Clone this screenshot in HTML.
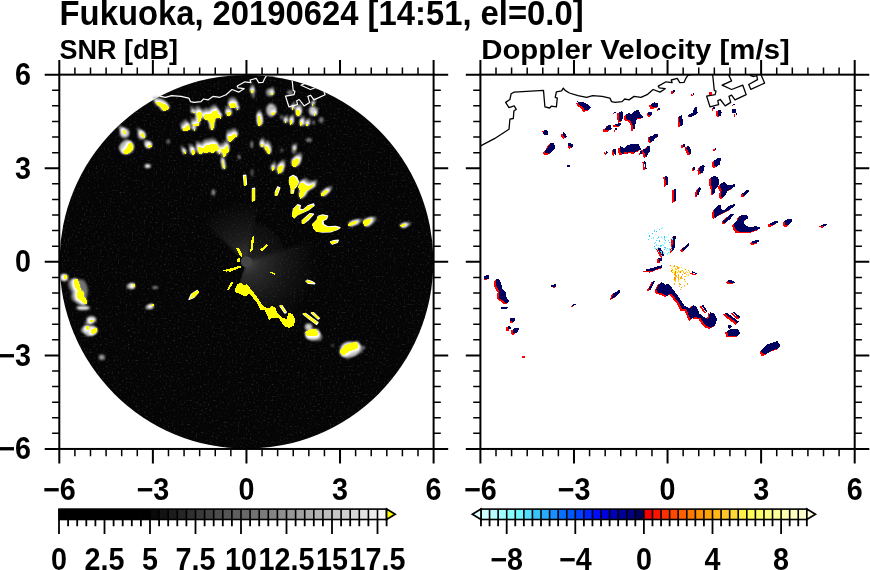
<!DOCTYPE html>
<html lang="en"><head><meta charset="utf-8"><title>Fukuoka, 20190624 [14:51, el=0.0]</title>
<style>
html,body{margin:0;padding:0;background:#fff;}
body{width:870px;height:570px;overflow:hidden;}
svg{display:block;}
text{font-family:"Liberation Sans", "DejaVu Sans", sans-serif;font-weight:bold;fill:#000;}
.t1{font-size:34.5px;}
.t2{font-size:28.4px;}
.tk{font-size:30.9px;}
</style></head><body>
<svg width="870" height="570" viewBox="0 0 870 570">
<defs>
<clipPath id="cp1"><rect x="59.3" y="74.65" width="374.3" height="374.3"/></clipPath>
<clipPath id="cp2"><rect x="480.4" y="74.65" width="374.3" height="374.3"/></clipPath>
<clipPath id="cc1"><circle cx="246.45" cy="261.80" r="186.85"/></clipPath>
<filter id="bl" color-interpolation-filters="sRGB" x="-5%" y="-5%" width="110%" height="110%"><feGaussianBlur stdDeviation="1.3"/></filter>
<filter id="bl3" color-interpolation-filters="sRGB" x="-5%" y="-5%" width="110%" height="110%"><feGaussianBlur stdDeviation="1.1"/></filter>
<filter id="bl4" color-interpolation-filters="sRGB" x="-5%" y="-5%" width="110%" height="110%"><feGaussianBlur stdDeviation="0.6"/></filter>
<filter id="nz" color-interpolation-filters="sRGB" x="0" y="0" width="100%" height="100%"><feTurbulence type="fractalNoise" baseFrequency="0.5" numOctaves="2" seed="3"/><feColorMatrix type="matrix" values="0 0 0 0 0.2  0 0 0 0 0.2  0 0 0 0 0.2  3 0 0 0 -1.8"/></filter>
<filter id="bl2" color-interpolation-filters="sRGB" x="-5%" y="-5%" width="110%" height="110%"><feGaussianBlur stdDeviation="1.5"/></filter>

<radialGradient id="rg1" gradientUnits="userSpaceOnUse" cx="246.4" cy="261.8" r="70">
<stop offset="0" stop-color="#4a4a4a"/><stop offset="0.2" stop-color="#2c2c2c"/><stop offset="0.55" stop-color="#161616"/><stop offset="1" stop-color="#050505"/></radialGradient>
<radialGradient id="rg2" gradientUnits="userSpaceOnUse" cx="246.4" cy="261.8" r="60">
<stop offset="0" stop-color="#3a3a3a"/><stop offset="0.4" stop-color="#1c1c1c"/><stop offset="1" stop-color="#050505"/></radialGradient>

</defs>
<rect width="870" height="570" fill="#fff"/>

<text class="t1" x="59.6" y="24.8" textLength="524" lengthAdjust="spacingAndGlyphs">Fukuoka, 20190624 [14:51, el=0.0]</text>
<text class="t2" x="59.6" y="58.7" textLength="118.3" lengthAdjust="spacingAndGlyphs">SNR [dB]</text>
<text class="t2" x="481.2" y="58.7" textLength="308.6" lengthAdjust="spacingAndGlyphs">Doppler Velocity [m/s]</text>
<g clip-path="url(#cp1)">
<circle cx="246.45" cy="261.80" r="186.85" fill="#050505"/>
<g filter="url(#bl2)"><path d="M246.4 261.8L217.2 334.1A78 78 0 0 0 320.6 237.7Z" fill="url(#rg1)"/><path d="M246.4 261.8L259.3 201.2A62 62 0 0 0 200.4 220.3Z" fill="url(#rg2)"/><path d="M246.4 261.8L284.5 249.4A40 40 0 0 0 254.8 222.7Z" fill="url(#rg2)" opacity="0.6"/></g>
<g filter="url(#bl4)"><polygon points="234.6,290.4 240.2,287.7 247.2,289.5 254.2,296.5 261.2,305.3 268.2,313.2 275.3,313.2 282.3,320.2 291.0,320.2 296.0,319.5 305.1,330.1 301.0,333.4 293.5,338.5 290.5,340.3 281.5,344.7 275.4,347.0 266.1,349.6 248.9,351.8 225.3,349.3 212.0,344.9" fill="#050505"/><path d="M246.4 261.8L188.5 277.3A60 60 0 0 0 227.9 318.9Z" fill="#050505"/></g>
<rect x="59.3" y="74.65" width="374.3" height="374.3" filter="url(#nz)" clip-path="url(#cc1)"/>
<circle cx="246.4" cy="261.8" r="5.6" fill="#454545"/>
<g filter="url(#bl)"><ellipse cx="168.4" cy="141.4" rx="1.5" ry="2.1" fill="rgb(127,127,127)"/><ellipse cx="253.3" cy="92.6" rx="1.2" ry="6.0" fill="rgb(153,153,153)"/><ellipse cx="270.0" cy="92.3" rx="3.9" ry="3.9" fill="rgb(153,153,153)"/><ellipse cx="290.0" cy="92.6" rx="3.0" ry="2.4" fill="rgb(127,127,127)"/><ellipse cx="271.1" cy="110.2" rx="4.8" ry="6.6" fill="rgb(191,191,191)"/><ellipse cx="259.8" cy="118.9" rx="2.4" ry="6.3" fill="rgb(153,153,153)"/><ellipse cx="281.6" cy="117.2" rx="1.2" ry="2.4" fill="rgb(127,127,127)"/><ellipse cx="285.4" cy="119.6" rx="1.5" ry="3.3" fill="rgb(153,153,153)"/><ellipse cx="291.4" cy="120.0" rx="1.2" ry="4.2" fill="rgb(178,178,178)"/><ellipse cx="298.1" cy="110.9" rx="2.1" ry="4.8" fill="rgb(178,178,178)"/><ellipse cx="302.3" cy="121.8" rx="1.5" ry="3.9" fill="rgb(178,178,178)"/><ellipse cx="307.2" cy="122.5" rx="1.5" ry="3.3" fill="rgb(153,153,153)"/><ellipse cx="312.8" cy="110.9" rx="3.9" ry="4.8" fill="rgb(204,204,204)"/><ellipse cx="313.5" cy="122.5" rx="1.5" ry="2.1" fill="rgb(127,127,127)"/><ellipse cx="321.2" cy="120.0" rx="2.1" ry="3.0" fill="rgb(127,127,127)"/><ellipse cx="308.9" cy="140.0" rx="3.0" ry="2.1" fill="rgb(127,127,127)"/><ellipse cx="293.9" cy="149.1" rx="2.1" ry="5.1" fill="rgb(127,127,127)"/><ellipse cx="251.8" cy="144.6" rx="1.2" ry="3.6" fill="rgb(153,153,153)"/><ellipse cx="261.9" cy="143.2" rx="1.8" ry="3.6" fill="rgb(153,153,153)"/><ellipse cx="281.9" cy="150.2" rx="1.5" ry="1.8" fill="rgb(102,102,102)"/><ellipse cx="124.6" cy="133.0" rx="4.8" ry="4.8" fill="rgb(204,204,204)"/><ellipse cx="126.7" cy="147.4" rx="7.2" ry="6.3" fill="rgb(204,204,204)"/><ellipse cx="141.8" cy="135.1" rx="3.9" ry="4.2" fill="rgb(178,178,178)"/><ellipse cx="148.4" cy="144.6" rx="3.6" ry="3.3" fill="rgb(204,204,204)"/><ellipse cx="168.1" cy="141.8" rx="1.8" ry="2.1" fill="rgb(114,114,114)"/><ellipse cx="147.7" cy="166.0" rx="3.0" ry="2.1" fill="rgb(242,242,242)"/><ellipse cx="64.6" cy="277.6" rx="3.7" ry="3.4" fill="rgb(204,204,204)"/><ellipse cx="80.4" cy="291.2" rx="7.5" ry="11.9" fill="rgb(114,114,114)"/><ellipse cx="83.1" cy="307.9" rx="6.7" ry="2.2" fill="rgb(229,229,229)"/><ellipse cx="91.4" cy="319.7" rx="4.8" ry="3.4" fill="rgb(229,229,229)"/><ellipse cx="90.1" cy="330.3" rx="7.5" ry="4.8" fill="rgb(229,229,229)"/><ellipse cx="131.3" cy="286.0" rx="3.7" ry="2.2" fill="rgb(204,204,204)"/><ellipse cx="155.2" cy="287.5" rx="3.1" ry="1.3" fill="rgb(153,153,153)"/><ellipse cx="149.7" cy="307.0" rx="3.7" ry="2.2" fill="rgb(178,178,178)"/><ellipse cx="101.8" cy="357.3" rx="3.0" ry="2.8" fill="rgb(153,153,153)"/><ellipse cx="308.6" cy="326.9" rx="3.7" ry="3.4" fill="rgb(204,204,204)"/><ellipse cx="312.5" cy="334.8" rx="7.1" ry="4.8" fill="rgb(229,229,229)"/><ellipse cx="349.8" cy="349.3" rx="9.7" ry="7.5" fill="rgb(229,229,229)"/><ellipse cx="363.4" cy="347.5" rx="1.9" ry="1.5" fill="rgb(127,127,127)"/><ellipse cx="332.5" cy="345.5" rx="1.3" ry="1.3" fill="rgb(102,102,102)"/><ellipse cx="404.1" cy="225.3" rx="3.4" ry="1.5" fill="rgb(114,114,114)"/><ellipse cx="252.1" cy="172.8" rx="1.2" ry="3.7" fill="rgb(102,102,102)"/><ellipse cx="239.1" cy="157.0" rx="1.2" ry="2.2" fill="rgb(153,153,153)"/><ellipse cx="213.4" cy="192.5" rx="1.7" ry="3.0" fill="rgb(153,153,153)"/></g>
<g filter="url(#bl)" fill="#aaa" stroke="#aaa" stroke-width="1.0" stroke-linejoin="round" opacity="0.7"><polygon points="153.1,96.9 158.4,97.6 163.4,99.7 166.9,103.2 164.8,105.3 160.5,106.0 158.4,102.5 154.9,100.4"/><polygon points="154.3,99.1 159.6,99.8 164.5,101.9 168.1,105.4 165.9,107.5 161.7,108.2 159.6,104.7 156.1,102.6"/><polygon points="137.6,128.4 139.3,129.1 141.9,132.6 140.4,134.0 138.2,131.2"/><polygon points="139.2,130.3 140.9,131.0 143.4,134.5 142.0,135.9 139.8,133.1"/><polygon points="144.2,140.6 147.0,140.3 148.0,142.5 146.0,143.9 144.2,142.5"/><polygon points="145.8,142.5 148.6,142.3 149.6,144.4 147.6,145.8 145.8,144.4"/><polygon points="180.6,123.4 182.7,122.7 184.8,119.9 186.9,120.6 188.0,124.1 185.5,125.8 181.3,125.8"/><polygon points="181.6,125.7 183.7,125.0 185.8,122.2 187.9,122.9 189.0,126.4 186.5,128.1 182.3,128.1"/><polygon points="191.6,123.3 193.4,123.7 193.4,125.7 191.7,125.4"/><polygon points="192.5,125.6 194.3,126.0 194.3,128.0 192.7,127.7"/><polygon points="191.2,118.6 194.3,119.0 196.4,117.6 197.8,119.0 196.4,121.2 193.5,121.2 191.4,120.4"/><polygon points="192.0,121.0 195.1,121.4 197.2,120.0 198.6,121.4 197.2,123.5 194.4,123.5 192.3,122.8"/><polygon points="195.1,107.8 198.0,106.3 200.1,107.8 200.1,112.0 198.7,116.2 196.1,116.6 195.8,112.7"/><polygon points="195.9,110.1 198.7,108.7 200.8,110.1 200.8,114.3 199.4,118.5 196.9,119.0 196.6,115.0"/><polygon points="190.8,106.8 192.6,106.8 192.6,108.2 190.8,108.2"/><polygon points="191.6,109.2 193.5,109.2 193.5,110.6 191.6,110.6"/><polygon points="202.6,109.7 206.1,108.3 208.9,109.0 211.7,106.2 215.2,104.8 217.3,108.3 220.1,111.1 219.4,113.2 215.9,112.5 213.8,113.9 212.8,118.2 212.0,124.5 210.0,124.5 209.6,119.6 207.5,115.4 204.7,114.6 202.6,113.2"/><polygon points="203.2,112.2 206.7,110.8 209.5,111.5 212.3,108.7 215.8,107.3 217.9,110.8 220.7,113.6 220.0,115.7 216.5,115.0 214.4,116.4 213.4,120.6 212.6,126.9 210.6,126.9 210.2,122.0 208.1,117.8 205.3,117.1 203.2,115.7"/><polygon points="226.1,106.5 229.9,106.5 230.3,109.6 228.0,110.7 226.1,109.6"/><polygon points="226.4,109.0 230.2,109.0 230.6,112.1 228.3,113.2 226.4,112.1"/><polygon points="228.7,99.1 232.2,97.3 235.7,98.4 236.4,101.2 233.6,102.3 230.1,102.3"/><polygon points="228.9,101.6 232.4,99.7 235.9,100.9 236.6,103.7 233.8,104.8 230.3,104.8"/><polygon points="236.5,103.0 237.9,103.0 237.9,104.7 236.5,104.7"/><polygon points="236.7,105.5 238.1,105.5 238.1,107.2 236.7,107.2"/><polygon points="251.1,85.5 253.2,85.0 253.6,87.1 251.8,87.8"/><polygon points="251.0,87.9 253.1,87.5 253.5,89.6 251.7,90.3"/><polygon points="258.1,110.7 260.5,110.3 260.5,116.6 258.4,116.6"/><polygon points="257.9,113.2 260.3,112.8 260.3,119.1 258.2,119.1"/><polygon points="227.5,130.7 230.6,130.4 233.1,128.6 236.2,129.3 236.2,131.4 233.1,132.8 231.3,135.6 228.5,137.0 227.1,134.2"/><polygon points="227.8,133.2 230.9,132.9 233.4,131.1 236.5,131.8 236.5,133.9 233.4,135.3 231.6,138.1 228.8,139.5 227.4,136.7"/><polygon points="181.1,146.1 182.5,146.1 183.6,148.9 182.2,149.6"/><polygon points="182.3,148.3 183.7,148.3 184.8,151.1 183.4,151.8"/><polygon points="189.3,144.5 191.6,144.5 192.6,147.3 191.6,150.1 189.8,149.4"/><polygon points="190.3,146.8 192.7,146.8 193.7,149.6 192.7,152.4 190.9,151.7"/><polygon points="196.5,141.5 199.3,142.2 201.4,143.6 204.2,140.1 207.7,139.4 211.2,138.7 214.7,139.1 216.8,142.2 217.5,145.0 214.7,145.7 211.2,147.8 207.7,147.1 204.2,147.8 201.4,147.1 200.0,149.2 197.4,148.5 196.5,145.0"/><polygon points="197.3,143.8 200.1,144.5 202.2,145.9 205.0,142.4 208.5,141.7 212.0,141.0 215.5,141.4 217.6,144.5 218.3,147.3 215.5,148.0 212.0,150.1 208.5,149.4 205.0,150.1 202.2,149.4 200.8,151.5 198.3,150.8 197.3,147.3"/><polygon points="217.3,146.2 219.0,146.2 219.0,149.0 217.3,149.0"/><polygon points="217.9,148.7 219.6,148.7 219.6,151.5 217.9,151.5"/><polygon points="220.3,143.4 223.2,144.1 225.3,140.6 227.4,141.3 227.6,146.2 225.3,148.3 224.3,151.8 222.5,151.1 222.0,148.3 220.3,146.9"/><polygon points="220.8,145.8 223.6,146.5 225.7,143.0 227.8,143.7 228.1,148.6 225.7,150.7 224.8,154.2 222.9,153.5 222.5,150.7 220.8,149.3"/><polygon points="251.3,85.0 253.0,84.6 253.3,87.1 251.6,87.8"/><polygon points="251.2,87.5 252.9,87.1 253.2,89.6 251.5,90.3"/><polygon points="271.6,87.5 273.3,87.5 273.6,89.3 271.9,89.7"/><polygon points="271.2,89.9 272.9,89.9 273.2,91.8 271.5,92.2"/><polygon points="258.2,111.0 260.3,111.3 261.7,115.2 262.0,118.7 260.3,120.8 258.6,120.1 258.6,115.9"/><polygon points="258.0,113.5 260.1,113.8 261.5,117.7 261.8,121.2 260.1,123.3 258.4,122.6 258.4,118.4"/><polygon points="272.0,108.0 275.5,106.6 276.2,108.3 273.4,109.7"/><polygon points="271.6,110.5 275.1,109.0 275.8,110.7 273.0,112.1"/><polygon points="293.4,102.1 294.8,102.1 294.8,104.5 293.4,104.5"/><polygon points="292.7,104.5 294.1,104.5 294.1,106.9 292.7,106.9"/><polygon points="298.1,105.0 300.6,104.6 302.0,107.8 300.9,111.0 298.8,111.0 297.8,108.5"/><polygon points="297.3,107.3 299.8,106.9 301.2,110.1 300.1,113.4 298.0,113.4 297.0,110.8"/><polygon points="286.3,115.4 287.7,115.4 287.7,117.5 286.3,117.5"/><polygon points="285.6,117.8 287.0,117.8 287.0,119.9 285.6,119.9"/><polygon points="291.7,115.5 293.5,114.8 293.8,118.3 292.1,119.7"/><polygon points="290.9,117.8 292.7,117.1 293.0,120.7 291.3,122.1"/><polygon points="302.3,116.7 304.2,116.3 304.2,120.1 302.3,120.9"/><polygon points="301.4,119.0 303.3,118.6 303.3,122.4 301.4,123.2"/><polygon points="308.1,118.8 310.0,118.5 310.0,120.6 308.1,121.0"/><polygon points="307.1,121.0 309.0,120.8 309.0,122.9 307.1,123.3"/><polygon points="316.2,108.0 317.6,108.0 317.6,110.8 316.2,110.8"/><polygon points="315.1,110.3 316.5,110.3 316.5,113.1 315.1,113.1"/><polygon points="313.9,98.8 315.3,98.8 315.3,100.5 313.9,100.5"/><polygon points="312.9,101.1 314.3,101.1 314.3,102.8 312.9,102.8"/><polygon points="261.7,138.4 263.6,138.4 263.6,141.6 261.7,141.6"/><polygon points="261.3,140.9 263.3,140.9 263.3,144.1 261.3,144.1"/><polygon points="266.2,140.6 268.6,141.3 270.7,144.8 270.9,148.3 269.0,149.0 267.6,146.2 265.8,144.1"/><polygon points="265.7,143.0 268.1,143.7 270.2,147.2 270.5,150.7 268.5,151.4 267.1,148.6 265.3,146.5"/><polygon points="295.7,143.4 296.8,143.4 296.8,144.8 295.7,144.8"/><polygon points="294.7,145.7 295.8,145.7 295.8,147.1 294.7,147.1"/><polygon points="298.8,153.7 301.6,153.7 301.6,155.1 298.8,155.1"/><polygon points="297.7,155.9 300.5,155.9 300.5,157.3 297.7,157.3"/><polygon points="118.7,126.2 120.8,125.8 122.6,129.7 121.2,130.8 119.4,129.0"/><polygon points="120.4,128.0 122.5,127.6 124.3,131.5 122.9,132.6 121.1,130.8"/><polygon points="137.2,128.7 138.9,128.3 141.7,132.5 140.3,133.9 137.9,131.5"/><polygon points="138.8,130.7 140.5,130.2 143.3,134.5 141.9,135.9 139.5,133.5"/><polygon points="119.2,147.4 122.0,144.6 124.8,139.7 127.6,139.4 129.7,143.2 128.6,146.0 126.2,148.8 123.4,150.2 119.9,149.8"/><polygon points="121.0,149.2 123.8,146.3 126.6,141.4 129.4,141.2 131.5,144.9 130.4,147.8 128.0,150.6 125.2,152.0 121.7,151.5"/><polygon points="144.9,140.7 147.3,140.4 148.1,142.4 146.3,143.8 144.6,142.8"/><polygon points="146.5,142.6 148.9,142.3 149.7,144.3 147.9,145.7 146.2,144.7"/><polygon points="58.6,275.9 61.4,275.9 61.4,279.4 58.6,279.4"/><polygon points="61.1,275.7 63.9,275.7 63.9,279.2 61.1,279.2"/><polygon points="68.9,280.8 72.0,279.9 74.2,285.2 75.9,291.3 78.5,293.1 78.5,297.5 82.0,301.9 81.2,304.5 78.5,304.5 75.9,301.9 72.4,300.1 71.5,295.7 72.4,292.2 69.8,288.7 68.5,284.3"/><polygon points="71.3,280.4 74.5,279.5 76.6,284.8 78.4,290.9 81.0,292.6 81.0,297.0 84.5,301.4 83.6,304.1 81.0,304.1 78.4,301.4 74.9,299.7 74.0,295.3 74.9,291.8 72.2,288.3 71.0,283.9"/><polygon points="85.0,322.1 88.5,322.5 87.6,324.3 85.0,323.9"/><polygon points="87.3,321.3 90.8,321.6 89.9,323.4 87.3,323.0"/><polygon points="81.2,328.4 83.6,327.9 84.1,331.9 81.5,331.9"/><polygon points="83.5,327.5 85.9,326.9 86.4,331.0 83.8,331.0"/><polygon points="86.0,332.1 89.5,330.3 92.1,330.9 91.7,333.8 88.6,336.1 86.0,335.6"/><polygon points="88.2,331.1 91.7,329.3 94.4,329.8 94.0,332.8 90.9,335.1 88.2,334.6"/><polygon points="127.3,285.0 129.4,285.0 129.4,288.3 127.3,288.3"/><polygon points="129.8,284.5 131.9,284.5 131.9,287.8 129.8,287.8"/><polygon points="145.6,307.6 148.6,306.3 149.1,307.6 146.1,308.8"/><polygon points="147.9,306.5 150.9,305.3 151.4,306.5 148.4,307.7"/><polygon points="308.8,335.8 314.1,333.2 319.7,333.2 322.0,337.5 320.2,340.2 310.6,340.2"/><polygon points="307.1,334.0 312.4,331.3 318.0,331.3 320.3,335.7 318.5,338.3 308.9,338.3"/><polygon points="343.5,354.6 349.6,348.5 360.2,345.0 362.8,349.4 361.0,352.3 354.0,354.6 348.8,358.1 345.8,358.1"/><polygon points="341.6,353.0 347.7,346.9 358.3,343.3 360.9,347.7 359.1,350.7 352.1,353.0 346.8,356.5 343.9,356.5"/><polygon points="294.4,156.5 298.8,153.5 301.9,154.7 300.5,160.0 297.0,162.3 294.4,160.9"/><polygon points="293.3,158.7 297.6,155.7 300.8,157.0 299.4,162.2 295.9,164.5 293.3,163.1"/><polygon points="279.8,162.4 283.3,159.7 285.0,161.5 283.3,167.6 279.8,168.5"/><polygon points="278.9,164.7 282.4,162.1 284.2,163.8 282.4,170.0 278.9,170.9"/><polygon points="273.3,162.3 275.0,161.9 275.4,164.9 273.3,165.4"/><polygon points="272.6,164.7 274.3,164.3 274.7,167.3 272.6,167.8"/><polygon points="302.4,179.9 305.9,178.2 308.5,180.8 312.9,181.7 316.4,179.9 316.9,182.5 312.9,185.2 309.4,186.9 306.8,192.2 303.6,194.5 302.4,190.4 303.6,186.1 301.5,183.4"/><polygon points="300.8,181.9 304.3,180.1 307.0,182.7 311.3,183.6 314.9,181.9 315.4,184.5 311.3,187.1 307.8,188.9 305.2,194.1 302.0,196.4 300.8,192.4 302.0,188.0 299.9,185.4"/><polygon points="325.0,190.2 330.3,186.4 332.4,187.6 327.6,192.3 325.4,192.3"/><polygon points="323.1,191.9 328.4,188.0 330.5,189.2 325.8,194.0 323.5,194.0"/><polygon points="353.2,221.8 358.5,219.7 362.0,219.2 361.1,221.5 355.9,223.9 353.6,223.9"/><polygon points="350.9,222.7 356.2,220.6 359.7,220.0 358.8,222.3 353.5,224.8 351.2,224.8"/><polygon points="367.9,219.3 372.6,217.6 376.1,217.1 375.6,220.2 371.7,224.1 369.1,224.1"/><polygon points="365.5,220.1 370.2,218.4 373.7,217.8 373.2,221.0 369.3,224.9 366.7,224.9"/><polygon points="404.7,224.4 409.0,222.6 411.1,223.5 407.3,226.1"/><polygon points="402.2,224.9 406.6,223.2 408.7,224.1 404.9,226.7"/><polygon points="221.2,156.0 222.4,155.5 223.8,163.9 222.4,164.3"/><polygon points="221.8,158.5 223.0,158.0 224.4,166.4 223.0,166.7"/><polygon points="279.2,164.1 282.2,161.5 284.0,162.4 283.1,166.8 280.5,168.5"/><polygon points="278.4,166.5 281.4,163.8 283.1,164.7 282.3,169.1 279.6,170.9"/></g>
<g filter="url(#bl3)" fill="#fff" stroke="#fff" stroke-width="2.0" stroke-linejoin="round"><polygon points="155.0,100.3 160.3,101.0 165.2,103.2 168.7,106.7 166.6,108.8 162.4,109.5 160.3,106.0 156.8,103.9"/><polygon points="140.1,131.4 141.8,132.1 144.3,135.6 142.9,137.0 140.7,134.2"/><polygon points="146.7,143.6 149.5,143.3 150.5,145.4 148.5,146.8 146.7,145.4"/><polygon points="182.2,127.0 184.3,126.3 186.4,123.5 188.5,124.2 189.6,127.7 187.1,129.3 182.9,129.3"/><polygon points="193.0,126.9 194.9,127.4 194.9,129.3 193.2,129.0"/><polygon points="192.5,122.3 195.6,122.7 197.7,121.3 199.1,122.7 197.7,124.8 194.9,124.8 192.8,124.1"/><polygon points="196.3,111.5 199.2,110.1 201.3,111.5 201.3,115.7 199.9,119.9 197.3,120.3 197.1,116.4"/><polygon points="192.1,110.5 193.9,110.5 193.9,111.9 192.1,111.9"/><polygon points="203.5,113.5 207.0,112.1 209.8,112.8 212.6,110.0 216.1,108.6 218.2,112.1 221.0,114.9 220.3,117.0 216.8,116.3 214.7,117.7 213.7,122.0 212.9,128.3 210.9,128.3 210.5,123.4 208.4,119.1 205.6,118.4 203.5,117.0"/><polygon points="226.5,110.4 230.3,110.4 230.8,113.5 228.5,114.6 226.5,113.5"/><polygon points="229.0,103.0 232.5,101.1 236.0,102.3 236.7,105.1 233.9,106.2 230.4,106.2"/><polygon points="236.7,106.9 238.2,106.9 238.2,108.6 236.7,108.6"/><polygon points="250.9,89.3 253.0,88.9 253.5,91.0 251.6,91.7"/><polygon points="257.8,114.6 260.1,114.2 260.1,120.5 258.0,120.5"/><polygon points="228.0,134.6 231.0,134.3 233.6,132.4 236.7,133.1 236.7,135.3 233.6,136.7 231.7,139.5 228.9,140.9 227.5,138.1"/><polygon points="183.0,149.5 184.4,149.5 185.5,152.3 184.1,153.0"/><polygon points="191.0,148.0 193.3,148.0 194.3,150.8 193.3,153.6 191.5,152.9"/><polygon points="197.7,145.2 200.5,145.9 202.6,147.3 205.4,143.7 209.0,143.0 212.5,142.3 216.0,142.8 218.1,145.9 218.8,148.7 216.0,149.4 212.5,151.5 209.0,150.8 205.4,151.5 202.6,150.8 201.2,152.9 198.7,152.2 197.7,148.7"/><polygon points="218.2,150.0 219.9,150.0 219.9,152.8 218.2,152.8"/><polygon points="221.1,147.2 223.9,147.9 226.0,144.4 228.1,145.1 228.4,150.0 226.0,152.1 225.0,155.6 223.2,154.9 222.8,152.1 221.1,150.7"/><polygon points="251.2,88.9 252.9,88.5 253.1,91.0 251.5,91.7"/><polygon points="271.0,91.3 272.7,91.3 273.0,93.2 271.3,93.6"/><polygon points="257.9,114.9 260.0,115.2 261.4,119.1 261.7,122.6 260.0,124.7 258.3,124.0 258.3,119.8"/><polygon points="271.3,111.8 274.8,110.4 275.5,112.1 272.7,113.5"/><polygon points="292.3,105.8 293.7,105.8 293.7,108.2 292.3,108.2"/><polygon points="296.8,108.7 299.4,108.2 300.8,111.5 299.6,114.7 297.5,114.7 296.6,112.2"/><polygon points="285.2,119.2 286.6,119.2 286.6,121.3 285.2,121.3"/><polygon points="290.5,119.2 292.3,118.5 292.6,122.0 290.9,123.4"/><polygon points="300.8,120.3 302.8,119.9 302.8,123.7 300.8,124.5"/><polygon points="306.5,122.3 308.5,122.0 308.5,124.1 306.5,124.6"/><polygon points="314.5,111.5 315.9,111.5 315.9,114.3 314.5,114.3"/><polygon points="312.4,102.4 313.8,102.4 313.8,104.1 312.4,104.1"/><polygon points="261.2,142.3 263.1,142.3 263.1,145.5 261.2,145.5"/><polygon points="265.5,144.4 267.8,145.1 269.9,148.6 270.2,152.1 268.3,152.8 266.9,150.0 265.0,147.9"/><polygon points="294.1,147.0 295.3,147.0 295.3,148.4 294.1,148.4"/><polygon points="297.0,157.2 299.8,157.2 299.8,158.6 297.0,158.6"/><polygon points="121.4,129.0 123.5,128.6 125.3,132.5 123.9,133.6 122.1,131.8"/><polygon points="139.7,131.7 141.4,131.3 144.2,135.5 142.8,136.9 140.4,134.6"/><polygon points="122.0,150.1 124.8,147.3 127.6,142.4 130.4,142.1 132.5,145.9 131.4,148.7 129.0,151.5 126.2,152.9 122.7,152.5"/><polygon points="147.4,143.7 149.8,143.4 150.6,145.4 148.8,146.8 147.1,145.8"/><polygon points="62.5,275.6 65.3,275.6 65.3,279.1 62.5,279.1"/><polygon points="72.7,280.1 75.9,279.2 78.0,284.5 79.7,290.6 82.4,292.4 82.4,296.8 85.9,301.2 85.0,303.8 82.4,303.8 79.7,301.2 76.2,299.4 75.4,295.0 76.2,291.5 73.6,288.0 72.4,283.6"/><polygon points="88.6,320.7 92.1,321.1 91.2,322.9 88.6,322.5"/><polygon points="84.8,326.9 87.2,326.4 87.7,330.4 85.1,330.4"/><polygon points="89.5,330.5 93.0,328.7 95.6,329.3 95.3,332.2 92.1,334.5 89.5,334.0"/><polygon points="131.2,284.2 133.3,284.2 133.3,287.5 131.2,287.5"/><polygon points="149.2,305.9 152.1,304.7 152.7,305.9 149.7,307.2"/><polygon points="306.2,332.9 311.4,330.3 317.1,330.3 319.3,334.7 317.6,337.3 307.9,337.3"/><polygon points="340.5,352.1 346.7,345.9 357.2,342.4 359.8,346.8 358.1,349.8 351.0,352.1 345.8,355.6 342.8,355.6"/><polygon points="292.6,160.0 297.0,157.0 300.2,158.2 298.8,163.5 295.3,165.8 292.6,164.4"/><polygon points="278.4,166.0 282.0,163.4 283.7,165.2 282.0,171.3 278.4,172.2"/><polygon points="272.2,166.0 273.9,165.7 274.3,168.6 272.2,169.2"/><polygon points="299.9,183.0 303.5,181.2 306.1,183.8 310.5,184.7 314.0,183.0 314.5,185.6 310.5,188.2 307.0,190.0 304.3,195.2 301.2,197.5 299.9,193.5 301.2,189.1 299.1,186.5"/><polygon points="322.1,192.8 327.3,188.9 329.4,190.2 324.7,194.9 322.4,194.9"/><polygon points="349.6,223.1 354.8,221.0 358.3,220.5 357.5,222.8 352.2,225.2 349.9,225.2"/><polygon points="364.2,220.6 368.9,218.8 372.4,218.3 371.9,221.4 368.0,225.3 365.4,225.3"/><polygon points="400.9,225.3 405.2,223.5 407.3,224.4 403.5,227.0"/><polygon points="222.1,159.8 223.3,159.3 224.7,167.7 223.3,168.1"/><polygon points="277.9,167.8 280.9,165.2 282.7,166.0 281.8,170.4 279.1,172.2"/></g>
<g filter="url(#bl4)" fill="#fff" stroke="#fff" stroke-width="1.3" stroke-linejoin="round"><polygon points="189.0,299.5 191.3,294.3 197.4,290.4 198.3,292.5 193.9,297.4"/><polygon points="280.1,305.9 281.9,305.9 285.4,311.2 284.2,312.0"/><polygon points="305.8,281.1 311.1,281.7 314.6,283.8 308.5,283.4"/><polygon points="280.1,306.1 281.9,305.5 286.3,312.2 284.9,313.1"/><polygon points="303.1,313.9 305.7,313.5 318.0,322.6 316.6,324.4 308.3,318.3"/><polygon points="311.3,312.9 313.6,312.6 319.4,318.2 318.0,319.1"/><polygon points="289.7,177.4 293.2,175.3 296.7,177.4 298.5,181.8 296.4,186.2 294.1,188.8 293.2,193.2 291.1,193.2 291.1,187.9 289.4,182.6"/><polygon points="275.6,191.4 277.7,187.0 278.7,187.9 277.0,194.9 275.2,195.2"/><polygon points="293.4,209.1 297.8,204.7 300.4,205.6 299.5,209.1 303.0,210.0 308.3,205.6 313.6,203.8 314.1,205.6 308.3,210.0 302.2,212.6 296.9,215.2 294.3,217.9 292.5,215.2"/><polygon points="302.2,220.6 310.1,213.6 313.6,214.1 308.4,219.7 304.0,223.2 302.2,222.9"/><polygon points="312.8,224.2 317.2,219.8 318.1,216.3 322.5,214.9 327.7,216.0 326.5,219.0 323.0,220.7 323.4,224.2 327.7,226.8 335.6,226.5 340.0,227.7 337.4,229.5 330.4,231.8 322.5,232.1 316.3,231.2 313.7,227.7"/><polygon points="330.4,241.9 333.9,240.7 338.3,240.2 337.4,242.5 332.2,244.2"/><polygon points="243.5,175.5 245.8,175.2 246.5,184.3 244.4,185.2"/><polygon points="252.4,188.7 254.6,188.2 254.6,200.1 252.4,201.0"/><polygon points="275.4,193.1 278.0,187.0 279.8,187.9 277.2,194.9"/><polygon points="307.3,280.2 311.5,281.3 314.7,283.4 308.3,283.4"/></g>
<g fill="#ffff00" shape-rendering="crispEdges"><polygon points="155.7,101.8 161.1,102.5 166.0,104.6 169.5,108.1 167.4,110.2 163.2,110.9 161.1,107.4 157.5,105.3"/><polygon points="141.1,132.6 142.8,133.3 145.3,136.8 143.9,138.2 141.7,135.4"/><polygon points="147.7,144.8 150.5,144.6 151.5,146.7 149.5,148.1 147.7,146.7"/><polygon points="182.8,128.4 184.9,127.7 187.0,124.9 189.1,125.6 190.2,129.1 187.7,130.8 183.5,130.8"/><polygon points="193.6,128.4 195.4,128.8 195.4,130.8 193.8,130.5"/><polygon points="193.1,123.8 196.1,124.2 198.2,122.8 199.6,124.2 198.2,126.3 195.4,126.3 193.3,125.6"/><polygon points="196.8,113.0 199.6,111.6 201.8,113.0 201.8,117.2 200.4,121.4 197.8,121.8 197.5,117.9"/><polygon points="192.6,112.0 194.5,112.0 194.5,113.4 192.6,113.4"/><polygon points="203.9,115.1 207.4,113.7 210.2,114.4 213.0,111.6 216.5,110.2 218.6,113.7 221.4,116.5 220.7,118.6 217.2,117.9 215.1,119.3 214.1,123.5 213.3,129.8 211.3,129.8 210.9,124.9 208.8,120.7 206.0,120.0 203.9,118.6"/><polygon points="226.7,112.0 230.5,112.0 230.9,115.1 228.7,116.2 226.7,115.1"/><polygon points="229.1,104.6 232.6,102.7 236.1,103.9 236.8,106.7 234.0,107.8 230.5,107.8"/><polygon points="236.8,108.5 238.2,108.5 238.2,110.2 236.8,110.2"/><polygon points="250.9,90.9 253.0,90.5 253.4,92.6 251.6,93.3"/><polygon points="257.6,116.2 260.0,115.8 260.0,122.1 257.9,122.1"/><polygon points="228.1,136.1 231.2,135.9 233.8,134.0 236.8,134.7 236.8,136.8 233.8,138.2 231.9,141.1 229.1,142.5 227.7,139.6"/><polygon points="183.8,150.9 185.2,150.9 186.3,153.7 184.9,154.4"/><polygon points="191.6,149.5 194.0,149.5 195.0,152.3 194.0,155.1 192.2,154.4"/><polygon points="198.2,146.7 201.1,147.4 203.2,148.8 206.0,145.3 209.5,144.6 213.0,143.9 216.5,144.3 218.6,147.4 219.3,150.2 216.5,150.9 213.0,153.0 209.5,152.3 206.0,153.0 203.2,152.3 201.8,154.4 199.2,153.7 198.2,150.2"/><polygon points="218.6,151.6 220.3,151.6 220.3,154.4 218.6,154.4"/><polygon points="221.4,148.8 224.2,149.5 226.3,146.0 228.4,146.7 228.7,151.6 226.3,153.7 225.3,157.2 223.5,156.5 223.1,153.7 221.4,152.3"/><polygon points="251.1,90.5 252.8,90.1 253.1,92.6 251.4,93.3"/><polygon points="270.8,92.9 272.5,92.9 272.7,94.7 271.1,95.2"/><polygon points="257.7,116.5 259.8,116.8 261.2,120.7 261.5,124.2 259.8,126.3 258.1,125.6 258.1,121.4"/><polygon points="271.1,113.4 274.6,112.0 275.3,113.7 272.5,115.1"/><polygon points="291.8,107.4 293.2,107.4 293.2,109.8 291.8,109.8"/><polygon points="296.3,110.2 298.8,109.8 300.2,113.0 299.1,116.2 297.0,116.2 296.0,113.7"/><polygon points="284.8,120.7 286.2,120.7 286.2,122.8 284.8,122.8"/><polygon points="290.0,120.7 291.8,120.0 292.1,123.5 290.4,124.9"/><polygon points="300.2,121.8 302.2,121.4 302.2,125.2 300.2,126.0"/><polygon points="305.9,123.8 307.8,123.5 307.8,125.6 305.9,126.0"/><polygon points="313.9,113.0 315.3,113.0 315.3,115.8 313.9,115.8"/><polygon points="311.8,103.9 313.2,103.9 313.2,105.5 311.8,105.5"/><polygon points="260.9,143.9 262.9,143.9 262.9,147.1 260.9,147.1"/><polygon points="265.2,146.0 267.5,146.7 269.6,150.2 269.9,153.7 268.0,154.4 266.6,151.6 264.7,149.5"/><polygon points="293.5,148.5 294.6,148.5 294.6,149.9 293.5,149.9"/><polygon points="296.3,158.6 299.1,158.6 299.1,160.0 296.3,160.0"/><polygon points="122.5,130.2 124.6,129.8 126.4,133.7 125.0,134.8 123.2,133.0"/><polygon points="140.7,133.0 142.4,132.6 145.2,136.8 143.8,138.2 141.4,135.8"/><polygon points="123.2,151.2 126.0,148.4 128.8,143.5 131.6,143.2 133.7,147.0 132.6,149.8 130.2,152.6 127.4,154.0 123.9,153.6"/><polygon points="148.4,144.9 150.8,144.6 151.6,146.6 149.8,148.0 148.1,147.0"/><polygon points="64.1,275.4 66.9,275.4 66.9,278.9 64.1,278.9"/><polygon points="74.3,279.8 77.5,278.9 79.6,284.2 81.3,290.4 83.9,292.1 83.9,296.5 87.5,300.9 86.6,303.5 83.9,303.5 81.3,300.9 77.8,299.1 76.9,294.7 77.8,291.2 75.2,287.7 73.9,283.3"/><polygon points="90.1,320.2 93.6,320.5 92.7,322.3 90.1,321.9"/><polygon points="86.2,326.3 88.7,325.8 89.2,329.8 86.6,329.8"/><polygon points="91.0,329.8 94.5,328.1 97.1,328.6 96.8,331.6 93.6,333.9 91.0,333.3"/><polygon points="132.7,283.9 134.8,283.9 134.8,287.2 132.7,287.2"/><polygon points="150.6,305.3 153.6,304.0 154.1,305.3 151.1,306.5"/><polygon points="189.6,299.1 191.9,293.9 198.1,290.0 198.9,292.1 194.6,297.0"/><polygon points="227.0,289.5 231.4,282.5 232.8,283.3 228.8,290.4"/><polygon points="236.7,258.8 239.8,257.9 240.5,261.4 237.5,262.3"/><polygon points="227.9,270.2 240.2,265.8 241.1,267.5 229.6,271.9"/><polygon points="237.5,251.8 239.3,250.9 242.8,256.1 241.1,257.0"/><polygon points="234.6,290.4 237.5,284.2 240.2,282.5 243.7,285.1 247.2,284.2 249.8,287.7 252.5,291.2 256.0,295.6 259.5,300.9 263.0,306.1 268.2,308.8 271.8,305.3 275.3,307.9 277.9,314.0 282.3,317.5 286.7,319.3 288.4,312.5 292.8,314.2 295.4,319.5 293.7,325.6 289.3,328.2 284.9,326.5 282.3,323.7 278.8,318.4 272.6,317.5 269.1,320.2 266.5,314.0 264.7,309.6 260.4,309.6 256.8,302.6 252.5,297.4 248.9,293.9 245.4,296.5 240.2,293.9 236.7,293.0"/><polygon points="279.6,305.3 281.4,305.3 284.9,310.5 283.7,311.4"/><polygon points="305.1,280.9 310.4,281.4 313.9,283.5 307.7,283.2"/><polygon points="279.6,305.4 281.4,304.9 285.8,311.6 284.4,312.5"/><polygon points="302.5,313.3 305.1,313.0 317.4,322.1 316.0,323.9 307.7,317.7"/><polygon points="310.7,312.5 313.0,312.1 318.8,317.7 317.4,318.6"/><polygon points="305.1,331.8 310.4,329.1 316.0,329.1 318.2,333.5 316.5,336.1 306.8,336.1"/><polygon points="339.3,351.1 345.4,344.9 356.0,341.4 358.6,345.8 356.8,348.8 349.8,351.1 344.6,354.6 341.6,354.6"/><polygon points="291.9,161.4 296.3,158.4 299.5,159.6 298.1,164.9 294.6,167.2 291.9,165.8"/><polygon points="277.9,167.5 281.4,164.9 283.2,166.7 281.4,172.8 277.9,173.7"/><polygon points="271.8,167.5 273.5,167.2 273.9,170.2 271.8,170.7"/><polygon points="289.3,178.1 292.8,176.0 296.3,178.1 298.1,182.5 296.0,186.8 293.7,189.5 292.8,193.9 290.7,193.9 290.7,188.6 288.9,183.3"/><polygon points="298.9,184.2 302.5,182.5 305.1,185.1 309.5,186.0 313.0,184.2 313.5,186.8 309.5,189.5 306.0,191.2 303.3,196.5 300.2,198.8 298.9,194.7 300.2,190.4 298.1,187.7"/><polygon points="275.3,192.1 277.4,187.7 278.4,188.6 276.7,195.6 274.9,196.0"/><polygon points="320.9,193.9 326.1,190.0 328.2,191.2 323.5,196.0 321.2,196.0"/><polygon points="292.8,209.6 297.2,205.3 299.8,206.1 298.9,209.6 302.5,210.5 307.7,206.1 313.0,204.4 313.5,206.1 307.7,210.5 301.6,213.2 296.3,215.8 293.7,218.4 291.9,215.8"/><polygon points="301.6,221.1 309.5,214.0 313.0,214.6 307.7,220.2 303.3,223.7 301.6,223.3"/><polygon points="312.1,224.6 316.5,220.2 317.4,216.7 321.8,215.3 327.0,216.3 325.8,219.3 322.3,221.1 322.6,224.6 327.0,227.2 334.9,226.8 339.3,228.1 336.7,229.8 329.6,232.1 321.8,232.5 315.6,231.6 313.0,228.1"/><polygon points="348.1,223.7 353.3,221.6 356.8,221.1 356.0,223.3 350.7,225.8 348.4,225.8"/><polygon points="362.6,221.1 367.4,219.3 370.9,218.8 370.4,221.9 366.5,225.8 363.9,225.8"/><polygon points="329.6,242.1 333.2,240.9 337.5,240.4 336.7,242.6 331.4,244.4"/><polygon points="399.3,225.6 403.7,223.9 405.8,224.7 401.9,227.4"/><polygon points="243.5,176.3 245.8,176.0 246.5,185.1 244.4,186.0"/><polygon points="252.3,189.5 254.6,188.9 254.6,200.9 252.3,201.8"/><polygon points="222.5,161.4 223.7,160.9 225.1,169.3 223.7,169.6"/><polygon points="275.1,193.9 277.7,187.7 279.5,188.6 276.8,195.6"/><polygon points="277.4,169.3 280.4,166.7 282.1,167.5 281.2,171.9 278.6,173.7"/><polygon points="251.8,236.8 254.3,235.8 252.8,249.5 250.1,252.6"/><polygon points="260.2,249.5 266.9,243.8 268.2,245.3 261.9,251.6"/><polygon points="236.0,248.4 238.7,248.0 242.9,255.2 240.8,256.8"/><polygon points="306.5,280.0 310.7,281.1 313.9,283.2 307.6,283.2"/><polygon points="270.3,271.6 276.0,273.7 274.9,274.7 269.7,272.6"/><polygon points="222.7,270.5 238.1,266.3 240.2,267.8 226.5,271.6"/><polygon points="227.6,288.4 231.8,281.1 233.3,282.1 229.1,290.1"/></g>
<g clip-path="url(#cc1)"><path d="M60.0 145.6L73.3 138.7L87.9 129.2L88.8 119.2L92.2 118.5L92.8 111.1L95.2 109.3L93.1 105.9L87.9 107.6L84.5 102.4L88.8 99.5L90.0 93.8L93.1 92.1L122.4 90.4L123.8 106.8L128.5 108.0L130.2 106.2L135.3 106.8L136.2 98.1L134.1 97.3L135.3 91.8L140.5 90.9L142.2 88.1L144.0 90.4L148.3 93.0L156.9 95.6L165.5 97.3L171.6 95.6L181.0 96.4L188.8 98.1L190.5 101.6L194.1 102.4L201.0 101.6L203.6 99.0L207.9 99.9L213.0 96.4L219.9 97.3L226.0 94.7L232.0 89.5L238.9 92.1L244.1 88.7L238.0 87.8L237.2 86.1L244.9 81.8L251.0 82.6L250.1 80.0L256.1 78.3L258.7 82.6L263.0 82.3L264.8 78.3L266.5 75.7L269.9 74.5L280.3 74.0M291.5 74.0L293.2 90.4L294.9 91.2L294.1 94.7L285.5 96.1L288.9 106.8L297.5 104.7L296.7 100.7L299.2 99.5L304.1 105.9L309.6 102.4L307.9 96.4L310.5 95.2L313.9 99.9L325.1 94.7L321.7 85.2L310.5 89.5L301.0 85.2L310.5 80.9L307.9 75.7L309.6 74.0M328.7 75.4L332.9 76.5L335.7 75.7L336.4 79.6L327.6 84.5L329.8 89.4L343.5 83.1L340.0 75.1L338.5 74.0M56.9 147.3L60.0 145.6" fill="none" stroke="#fff" stroke-width="1.2" stroke-linejoin="round"/></g>
</g>
<g clip-path="url(#cp2)">
<path d="M481.1 145.6L494.4 138.7L509.0 129.2L509.9 119.2L513.3 118.5L513.9 111.1L516.3 109.3L514.2 105.9L509.0 107.6L505.6 102.4L509.9 99.5L511.1 93.8L514.2 92.1L543.5 90.4L544.9 106.8L549.6 108.0L551.3 106.2L556.4 106.8L557.3 98.1L555.2 97.3L556.4 91.8L561.6 90.9L563.3 88.1L565.1 90.4L569.4 93.0L578.0 95.6L586.6 97.3L592.7 95.6L602.1 96.4L609.9 98.1L611.6 101.6L615.2 102.4L622.1 101.6L624.7 99.0L629.0 99.9L634.1 96.4L641.0 97.3L647.1 94.7L653.1 89.5L660.0 92.1L665.2 88.7L659.1 87.8L658.3 86.1L666.0 81.8L672.1 82.6L671.2 80.0L677.2 78.3L679.8 82.6L684.1 82.3L685.9 78.3L687.6 75.7L691.0 74.5L701.4 74.0M712.6 74.0L714.3 90.4L716.0 91.2L715.2 94.7L706.6 96.1L710.0 106.8L718.6 104.7L717.8 100.7L720.3 99.5L725.2 105.9L730.7 102.4L729.0 96.4L731.6 95.2L735.0 99.9L746.2 94.7L742.8 85.2L731.6 89.5L722.1 85.2L731.6 80.9L729.0 75.7L730.7 74.0M749.8 75.4L754.0 76.5L756.8 75.7L757.5 79.6L748.7 84.5L750.9 89.4L764.6 83.1L761.1 75.1L759.6 74.0M478.0 147.3L481.1 145.6" fill="none" stroke="#000" stroke-width="1.3" stroke-linejoin="round"/>
<g fill="#ff0000" shape-rendering="crispEdges"><polygon points="575.6,102.7 581.0,103.4 585.9,105.5 589.4,109.0 587.3,111.1 583.1,111.8 581.0,108.3 577.4,106.2"/><polygon points="561.0,133.5 562.7,134.2 565.2,137.7 563.8,139.1 561.6,136.3"/><polygon points="567.6,145.7 570.4,145.5 571.4,147.6 569.4,149.0 567.6,147.6"/><polygon points="602.7,129.3 604.8,128.6 606.9,125.8 609.0,126.5 610.1,130.0 607.6,131.7 603.4,131.7"/><polygon points="613.5,129.3 615.3,129.7 615.3,131.7 613.7,131.4"/><polygon points="613.0,124.7 616.0,125.1 618.1,123.7 619.5,125.1 618.1,127.2 615.3,127.2 613.2,126.5"/><polygon points="616.7,113.9 619.5,112.5 621.7,113.9 621.7,118.1 620.3,122.3 617.7,122.7 617.4,118.8"/><polygon points="612.5,112.9 614.4,112.9 614.4,114.3 612.5,114.3"/><polygon points="623.8,116.0 627.3,114.6 630.1,115.3 632.9,112.5 636.4,111.1 638.5,114.6 641.3,117.4 640.6,119.5 637.1,118.8 635.0,120.2 634.0,124.4 633.2,130.7 631.2,130.7 630.8,125.8 628.7,121.6 625.9,120.9 623.8,119.5"/><polygon points="646.6,112.9 650.4,112.9 650.8,116.0 648.6,117.1 646.6,116.0"/><polygon points="649.0,105.5 652.5,103.6 656.0,104.8 656.7,107.6 653.9,108.7 650.4,108.7"/><polygon points="656.7,109.4 658.1,109.4 658.1,111.1 656.7,111.1"/><polygon points="670.8,91.8 672.9,91.4 673.3,93.5 671.5,94.2"/><polygon points="677.5,117.1 679.9,116.7 679.9,123.0 677.8,123.0"/><polygon points="648.0,137.0 651.1,136.8 653.7,134.9 656.7,135.6 656.7,137.7 653.7,139.1 651.8,142.0 649.0,143.4 647.6,140.5"/><polygon points="603.7,151.8 605.1,151.8 606.2,154.6 604.8,155.3"/><polygon points="611.5,150.4 613.9,150.4 614.9,153.2 613.9,156.0 612.1,155.3"/><polygon points="618.1,147.6 621.0,148.3 623.1,149.7 625.9,146.2 629.4,145.5 632.9,144.8 636.4,145.2 638.5,148.3 639.2,151.1 636.4,151.8 632.9,153.9 629.4,153.2 625.9,153.9 623.1,153.2 621.7,155.3 619.1,154.6 618.1,151.1"/><polygon points="638.5,152.5 640.2,152.5 640.2,155.3 638.5,155.3"/><polygon points="641.3,149.7 644.1,150.4 646.2,146.9 648.3,147.6 648.6,152.5 646.2,154.6 645.2,158.1 643.4,157.4 643.0,154.6 641.3,153.2"/><polygon points="671.0,91.4 672.7,91.0 673.0,93.5 671.3,94.2"/><polygon points="690.7,93.8 692.4,93.8 692.6,95.6 691.0,96.1"/><polygon points="677.6,117.4 679.7,117.7 681.1,121.6 681.4,125.1 679.7,127.2 678.0,126.5 678.0,122.3"/><polygon points="691.0,114.3 694.5,112.9 695.2,114.6 692.4,116.0"/><polygon points="711.7,108.3 713.1,108.3 713.1,110.7 711.7,110.7"/><polygon points="716.2,111.1 718.7,110.7 720.1,113.9 719.0,117.1 716.9,117.1 715.9,114.6"/><polygon points="733.8,113.9 735.2,113.9 735.2,116.7 733.8,116.7"/><polygon points="731.7,104.8 733.1,104.8 733.1,106.4 731.7,106.4"/><polygon points="680.8,144.8 682.8,144.8 682.8,148.0 680.8,148.0"/><polygon points="685.1,146.9 687.4,147.6 689.5,151.1 689.8,154.6 687.9,155.3 686.5,152.5 684.6,150.4"/><polygon points="713.4,149.4 714.5,149.4 714.5,150.8 713.4,150.8"/><polygon points="716.2,159.5 719.0,159.5 719.0,160.9 716.2,160.9"/><polygon points="542.4,131.1 544.5,130.7 546.3,134.6 544.9,135.7 543.1,133.9"/><polygon points="560.6,133.9 562.3,133.5 565.1,137.7 563.7,139.1 561.3,136.7"/><polygon points="543.1,152.1 545.9,149.3 548.7,144.4 551.5,144.1 553.6,147.9 552.5,150.7 550.1,153.5 547.3,154.9 543.8,154.5"/><polygon points="568.3,145.8 570.7,145.5 571.5,147.5 569.7,148.9 568.0,147.9"/><polygon points="484.0,276.3 486.8,276.3 486.8,279.8 484.0,279.8"/><polygon points="494.2,280.7 497.4,279.8 499.5,285.1 501.2,291.3 503.8,293.0 503.8,297.4 507.4,301.8 506.5,304.4 503.8,304.4 501.2,301.8 497.7,300.0 496.8,295.6 497.7,292.1 495.1,288.6 493.8,284.2"/><polygon points="510.0,321.1 513.5,321.4 512.6,323.2 510.0,322.8"/><polygon points="506.1,327.2 508.6,326.7 509.1,330.7 506.5,330.7"/><polygon points="510.9,330.7 514.4,329.0 517.0,329.5 516.7,332.5 513.5,334.8 510.9,334.2"/><polygon points="552.6,284.8 554.7,284.8 554.7,288.1 552.6,288.1"/><polygon points="570.5,306.2 573.5,304.9 574.0,306.2 571.0,307.4"/><polygon points="609.5,300.0 611.8,294.8 618.0,290.9 618.8,293.0 614.5,297.9"/><polygon points="646.9,290.4 651.3,283.4 652.7,284.2 648.7,291.3"/><polygon points="656.6,259.7 659.7,258.8 660.4,262.3 657.4,263.2"/><polygon points="647.8,271.1 660.1,266.7 661.0,268.4 649.5,272.8"/><polygon points="657.4,252.7 659.2,251.8 662.7,257.0 661.0,257.9"/><polygon points="654.5,291.3 657.4,285.1 660.1,283.4 663.6,286.0 667.1,285.1 669.7,288.6 672.4,292.1 675.9,296.5 679.4,301.8 682.9,307.0 688.1,309.7 691.7,306.2 695.2,308.8 697.8,314.9 702.2,318.4 706.6,320.2 708.3,313.4 712.7,315.1 715.3,320.4 713.6,326.5 709.2,329.1 704.8,327.4 702.2,324.6 698.7,319.3 692.5,318.4 689.0,321.1 686.4,314.9 684.6,310.5 680.3,310.5 676.7,303.5 672.4,298.3 668.8,294.8 665.3,297.4 660.1,294.8 656.6,293.9"/><polygon points="699.5,306.2 701.3,306.2 704.8,311.4 703.6,312.3"/><polygon points="725.0,281.8 730.3,282.3 733.8,284.4 727.6,284.1"/><polygon points="699.5,306.3 701.3,305.8 705.7,312.5 704.3,313.4"/><polygon points="722.4,314.2 725.0,313.9 737.3,323.0 735.9,324.8 727.6,318.6"/><polygon points="730.6,313.4 732.9,313.0 738.7,318.6 737.3,319.5"/><polygon points="725.0,332.7 730.3,330.0 735.9,330.0 738.1,334.4 736.4,337.0 726.7,337.0"/><polygon points="759.2,352.0 765.3,345.8 775.9,342.3 778.5,346.7 776.7,349.7 769.7,352.0 764.5,355.5 761.5,355.5"/><polygon points="711.8,162.3 716.2,159.3 719.4,160.5 718.0,165.8 714.5,168.1 711.8,166.7"/><polygon points="697.8,168.4 701.3,165.8 703.1,167.6 701.3,173.7 697.8,174.6"/><polygon points="691.7,168.4 693.4,168.1 693.8,171.1 691.7,171.6"/><polygon points="709.2,179.0 712.7,176.9 716.2,179.0 718.0,183.4 715.9,187.7 713.6,190.4 712.7,194.8 710.6,194.8 710.6,189.5 708.8,184.2"/><polygon points="718.8,185.1 722.4,183.4 725.0,186.0 729.4,186.9 732.9,185.1 733.4,187.7 729.4,190.4 725.9,192.1 723.2,197.4 720.1,199.7 718.8,195.6 720.1,191.3 718.0,188.6"/><polygon points="695.2,193.0 697.3,188.6 698.3,189.5 696.6,196.5 694.8,196.9"/><polygon points="740.8,194.8 746.0,190.9 748.1,192.1 743.4,196.9 741.1,196.9"/><polygon points="712.7,210.5 717.1,206.2 719.7,207.0 718.8,210.5 722.4,211.4 727.6,207.0 732.9,205.3 733.4,207.0 727.6,211.4 721.5,214.1 716.2,216.7 713.6,219.3 711.8,216.7"/><polygon points="721.5,222.0 729.4,214.9 732.9,215.5 727.6,221.1 723.2,224.6 721.5,224.2"/><polygon points="732.0,225.5 736.4,221.1 737.3,217.6 741.7,216.2 746.9,217.2 745.7,220.2 742.2,222.0 742.5,225.5 746.9,228.1 754.8,227.7 759.2,229.0 756.6,230.7 749.5,233.0 741.7,233.4 735.5,232.5 732.9,229.0"/><polygon points="768.0,224.6 773.2,222.5 776.7,222.0 775.9,224.2 770.6,226.7 768.3,226.7"/><polygon points="782.5,222.0 787.3,220.2 790.8,219.7 790.3,222.8 786.4,226.7 783.8,226.7"/><polygon points="749.5,243.0 753.1,241.8 757.4,241.3 756.6,243.5 751.3,245.3"/><polygon points="819.2,226.5 823.6,224.8 825.7,225.6 821.8,228.3"/><polygon points="663.4,177.2 665.7,176.9 666.4,186.0 664.3,186.9"/><polygon points="672.2,190.4 674.5,189.8 674.5,201.8 672.2,202.7"/><polygon points="642.4,162.3 643.6,161.8 645.0,170.2 643.6,170.5"/><polygon points="695.0,194.8 697.6,188.6 699.4,189.5 696.7,196.5"/><polygon points="697.3,170.2 700.3,167.6 702.0,168.4 701.1,172.8 698.5,174.6"/><polygon points="671.7,237.7 674.2,236.7 672.7,250.4 670.0,253.5"/><polygon points="680.1,250.4 686.8,244.7 688.1,246.2 681.8,252.5"/><polygon points="655.9,249.3 658.6,248.9 662.8,256.1 660.7,257.7"/><polygon points="726.4,280.9 730.6,282.0 733.8,284.1 727.5,284.1"/><polygon points="690.2,272.5 695.9,274.6 694.8,275.6 689.6,273.5"/><polygon points="642.6,271.4 658.0,267.2 660.1,268.7 646.4,272.5"/><polygon points="647.5,289.3 651.7,282.0 653.2,283.0 649.0,291.0"/><polygon points="521.5,355.6 525.0,355.6 525.0,357.6 521.5,357.6"/><polygon points="708.7,91.8 712.2,91.8 712.2,94.8 708.7,94.8"/><polygon points="687.6,116.0 690.8,114.1 692.2,116.0 689.0,117.6"/></g>
<g fill="#000060" shape-rendering="crispEdges"><polygon points="577.3,101.4 582.7,102.1 587.6,104.2 591.1,107.7 589.0,109.8 584.8,110.5 582.7,107.0 579.1,104.9"/><polygon points="562.7,132.2 564.4,132.9 566.9,136.4 565.5,137.8 563.3,135.0"/><polygon points="569.3,144.4 572.1,144.2 573.1,146.3 571.1,147.7 569.3,146.3"/><polygon points="604.4,128.0 606.5,127.3 608.6,124.5 610.7,125.2 611.8,128.7 609.3,130.4 605.1,130.4"/><polygon points="615.2,128.0 617.0,128.4 617.0,130.4 615.4,130.1"/><polygon points="614.7,123.4 617.7,123.8 619.8,122.4 621.2,123.8 619.8,125.9 617.0,125.9 614.9,125.2"/><polygon points="618.4,112.6 621.2,111.2 623.4,112.6 623.4,116.8 622.0,121.0 619.4,121.4 619.1,117.5"/><polygon points="614.2,111.6 616.1,111.6 616.1,113.0 614.2,113.0"/><polygon points="625.5,114.7 629.0,113.3 631.8,114.0 634.6,111.2 638.1,109.8 640.2,113.3 643.0,116.1 642.3,118.2 638.8,117.5 636.7,118.9 635.7,123.1 634.9,129.4 632.9,129.4 632.5,124.5 630.4,120.3 627.6,119.6 625.5,118.2"/><polygon points="648.3,111.6 652.1,111.6 652.5,114.7 650.3,115.8 648.3,114.7"/><polygon points="650.7,104.2 654.2,102.3 657.7,103.5 658.4,106.3 655.6,107.4 652.1,107.4"/><polygon points="658.4,108.1 659.8,108.1 659.8,109.8 658.4,109.8"/><polygon points="672.5,90.5 674.6,90.1 675.0,92.2 673.2,92.9"/><polygon points="679.2,115.8 681.6,115.4 681.6,121.7 679.5,121.7"/><polygon points="649.7,135.7 652.8,135.5 655.4,133.6 658.4,134.3 658.4,136.4 655.4,137.8 653.5,140.7 650.7,142.1 649.3,139.2"/><polygon points="605.4,150.5 606.8,150.5 607.9,153.3 606.5,154.0"/><polygon points="613.2,149.1 615.6,149.1 616.6,151.9 615.6,154.7 613.8,154.0"/><polygon points="619.8,146.3 622.7,147.0 624.8,148.4 627.6,144.9 631.1,144.2 634.6,143.5 638.1,143.9 640.2,147.0 640.9,149.8 638.1,150.5 634.6,152.6 631.1,151.9 627.6,152.6 624.8,151.9 623.4,154.0 620.8,153.3 619.8,149.8"/><polygon points="640.2,151.2 641.9,151.2 641.9,154.0 640.2,154.0"/><polygon points="643.0,148.4 645.8,149.1 647.9,145.6 650.0,146.3 650.3,151.2 647.9,153.3 646.9,156.8 645.1,156.1 644.7,153.3 643.0,151.9"/><polygon points="672.7,90.1 674.4,89.7 674.7,92.2 673.0,92.9"/><polygon points="692.4,92.5 694.1,92.5 694.3,94.3 692.7,94.8"/><polygon points="679.3,116.1 681.4,116.4 682.8,120.3 683.1,123.8 681.4,125.9 679.7,125.2 679.7,121.0"/><polygon points="692.7,113.0 696.2,111.6 696.9,113.3 694.1,114.7"/><polygon points="713.4,107.0 714.8,107.0 714.8,109.4 713.4,109.4"/><polygon points="717.9,109.8 720.4,109.4 721.8,112.6 720.7,115.8 718.6,115.8 717.6,113.3"/><polygon points="735.5,112.6 736.9,112.6 736.9,115.4 735.5,115.4"/><polygon points="733.4,103.5 734.8,103.5 734.8,105.1 733.4,105.1"/><polygon points="682.5,143.5 684.5,143.5 684.5,146.7 682.5,146.7"/><polygon points="686.8,145.6 689.1,146.3 691.2,149.8 691.5,153.3 689.6,154.0 688.2,151.2 686.3,149.1"/><polygon points="715.1,148.1 716.2,148.1 716.2,149.5 715.1,149.5"/><polygon points="717.9,158.2 720.7,158.2 720.7,159.6 717.9,159.6"/><polygon points="544.1,129.8 546.2,129.4 548.0,133.3 546.6,134.4 544.8,132.6"/><polygon points="562.3,132.6 564.0,132.2 566.8,136.4 565.4,137.8 563.0,135.4"/><polygon points="544.8,150.8 547.6,148.0 550.4,143.1 553.2,142.8 555.3,146.6 554.2,149.4 551.8,152.2 549.0,153.6 545.5,153.2"/><polygon points="570.0,144.5 572.4,144.2 573.2,146.2 571.4,147.6 569.7,146.6"/><polygon points="485.7,275.0 488.5,275.0 488.5,278.5 485.7,278.5"/><polygon points="495.9,279.4 499.1,278.5 501.2,283.8 502.9,290.0 505.5,291.7 505.5,296.1 509.1,300.5 508.2,303.1 505.5,303.1 502.9,300.5 499.4,298.7 498.5,294.3 499.4,290.8 496.8,287.3 495.5,282.9"/><polygon points="511.7,319.8 515.2,320.1 514.3,321.9 511.7,321.5"/><polygon points="507.8,325.9 510.3,325.4 510.8,329.4 508.2,329.4"/><polygon points="512.6,329.4 516.1,327.7 518.7,328.2 518.4,331.2 515.2,333.5 512.6,332.9"/><polygon points="554.3,283.5 556.4,283.5 556.4,286.8 554.3,286.8"/><polygon points="572.2,304.9 575.2,303.6 575.7,304.9 572.7,306.1"/><polygon points="611.2,298.7 613.5,293.5 619.7,289.6 620.5,291.7 616.2,296.6"/><polygon points="648.6,289.1 653.0,282.1 654.4,282.9 650.4,290.0"/><polygon points="658.3,258.4 661.4,257.5 662.1,261.0 659.1,261.9"/><polygon points="649.5,269.8 661.8,265.4 662.7,267.1 651.2,271.5"/><polygon points="659.1,251.4 660.9,250.5 664.4,255.7 662.7,256.6"/><polygon points="656.2,290.0 659.1,283.8 661.8,282.1 665.3,284.7 668.8,283.8 671.4,287.3 674.1,290.8 677.6,295.2 681.1,300.5 684.6,305.7 689.8,308.4 693.4,304.9 696.9,307.5 699.5,313.6 703.9,317.1 708.3,318.9 710.0,312.1 714.4,313.8 717.0,319.1 715.3,325.2 710.9,327.8 706.5,326.1 703.9,323.3 700.4,318.0 694.2,317.1 690.7,319.8 688.1,313.6 686.3,309.2 682.0,309.2 678.4,302.2 674.1,297.0 670.5,293.5 667.0,296.1 661.8,293.5 658.3,292.6"/><polygon points="701.2,304.9 703.0,304.9 706.5,310.1 705.3,311.0"/><polygon points="726.7,280.5 732.0,281.0 735.5,283.1 729.3,282.8"/><polygon points="701.2,305.0 703.0,304.5 707.4,311.2 706.0,312.1"/><polygon points="724.1,312.9 726.7,312.6 739.0,321.7 737.6,323.5 729.3,317.3"/><polygon points="732.3,312.1 734.6,311.7 740.4,317.3 739.0,318.2"/><polygon points="726.7,331.4 732.0,328.7 737.6,328.7 739.8,333.1 738.1,335.7 728.4,335.7"/><polygon points="760.9,350.7 767.0,344.5 777.6,341.0 780.2,345.4 778.4,348.4 771.4,350.7 766.2,354.2 763.2,354.2"/><polygon points="713.5,161.0 717.9,158.0 721.1,159.2 719.7,164.5 716.2,166.8 713.5,165.4"/><polygon points="699.5,167.1 703.0,164.5 704.8,166.3 703.0,172.4 699.5,173.3"/><polygon points="693.4,167.1 695.1,166.8 695.5,169.8 693.4,170.3"/><polygon points="710.9,177.7 714.4,175.6 717.9,177.7 719.7,182.1 717.6,186.4 715.3,189.1 714.4,193.5 712.3,193.5 712.3,188.2 710.5,182.9"/><polygon points="720.5,183.8 724.1,182.1 726.7,184.7 731.1,185.6 734.6,183.8 735.1,186.4 731.1,189.1 727.6,190.8 724.9,196.1 721.8,198.4 720.5,194.3 721.8,190.0 719.7,187.3"/><polygon points="696.9,191.7 699.0,187.3 700.0,188.2 698.3,195.2 696.5,195.6"/><polygon points="742.5,193.5 747.7,189.6 749.8,190.8 745.1,195.6 742.8,195.6"/><polygon points="714.4,209.2 718.8,204.9 721.4,205.7 720.5,209.2 724.1,210.1 729.3,205.7 734.6,204.0 735.1,205.7 729.3,210.1 723.2,212.8 717.9,215.4 715.3,218.0 713.5,215.4"/><polygon points="723.2,220.7 731.1,213.6 734.6,214.2 729.3,219.8 724.9,223.3 723.2,222.9"/><polygon points="733.7,224.2 738.1,219.8 739.0,216.3 743.4,214.9 748.6,215.9 747.4,218.9 743.9,220.7 744.2,224.2 748.6,226.8 756.5,226.4 760.9,227.7 758.3,229.4 751.2,231.7 743.4,232.1 737.2,231.2 734.6,227.7"/><polygon points="769.7,223.3 774.9,221.2 778.4,220.7 777.6,222.9 772.3,225.4 770.0,225.4"/><polygon points="784.2,220.7 789.0,218.9 792.5,218.4 792.0,221.5 788.1,225.4 785.5,225.4"/><polygon points="751.2,241.7 754.8,240.5 759.1,240.0 758.3,242.2 753.0,244.0"/><polygon points="820.9,225.2 825.3,223.5 827.4,224.3 823.5,227.0"/><polygon points="665.1,175.9 667.4,175.6 668.1,184.7 666.0,185.6"/><polygon points="673.9,189.1 676.2,188.5 676.2,200.5 673.9,201.4"/><polygon points="644.1,161.0 645.3,160.5 646.7,168.9 645.3,169.2"/><polygon points="696.7,193.5 699.3,187.3 701.1,188.2 698.4,195.2"/><polygon points="699.0,168.9 702.0,166.3 703.7,167.1 702.8,171.5 700.2,173.3"/><polygon points="673.4,236.4 675.9,235.4 674.4,249.1 671.7,252.2"/><polygon points="681.8,249.1 688.5,243.4 689.8,244.9 683.5,251.2"/><polygon points="657.6,248.0 660.3,247.6 664.5,254.8 662.4,256.4"/><polygon points="728.1,279.6 732.3,280.7 735.5,282.8 729.2,282.8"/><polygon points="691.9,271.2 697.6,273.3 696.5,274.3 691.3,272.2"/><polygon points="644.3,270.1 659.7,265.9 661.8,267.4 648.1,271.2"/><polygon points="649.2,288.0 653.4,280.7 654.9,281.7 650.7,289.7"/><polygon points="688.0,114.8 692.6,112.5 694.9,106.8 697.2,106.8 696.8,111.4 698.4,112.5 693.8,116.0 689.2,117.1"/></g>
<g fill="#000060" shape-rendering="crispEdges"><ellipse cx="733.9" cy="110.9" rx="2.1" ry="2.5"/><ellipse cx="545.7" cy="133.0" rx="2.5" ry="2.5"/><ellipse cx="569.5" cy="144.6" rx="1.9" ry="1.7"/><ellipse cx="568.8" cy="166.0" rx="1.6" ry="1.1"/><ellipse cx="485.7" cy="277.6" rx="2.0" ry="1.8"/><ellipse cx="504.2" cy="307.9" rx="3.6" ry="1.2"/><ellipse cx="512.5" cy="319.7" rx="2.6" ry="1.8"/><ellipse cx="552.4" cy="286.0" rx="2.0" ry="1.2"/><ellipse cx="729.7" cy="326.9" rx="2.0" ry="1.8"/></g>
<g shape-rendering="crispEdges"><rect x="666" y="249" width="1" height="1" fill="#a0ffff"/><rect x="661" y="252" width="1" height="1" fill="#48d8ff"/><rect x="658" y="251" width="1" height="1" fill="#a0ffff"/><rect x="665" y="247" width="1" height="1" fill="#48d8ff"/><rect x="672" y="238" width="1" height="2" fill="#60f0ff"/><rect x="654" y="230" width="1" height="2" fill="#48d8ff"/><rect x="662" y="227" width="1" height="2" fill="#a0ffff"/><rect x="657" y="248" width="1" height="2" fill="#60f0ff"/><rect x="670" y="245" width="1" height="1" fill="#60f0ff"/><rect x="658" y="237" width="1" height="1" fill="#30c0ff"/><rect x="664" y="252" width="1" height="2" fill="#a0ffff"/><rect x="668" y="234" width="1" height="1" fill="#80ffff"/><rect x="659" y="229" width="1" height="1" fill="#30c0ff"/><rect x="667" y="248" width="1" height="1" fill="#60f0ff"/><rect x="659" y="240" width="1" height="2" fill="#30c0ff"/><rect x="662" y="237" width="1" height="1" fill="#a0ffff"/><rect x="664" y="249" width="1" height="1" fill="#30c0ff"/><rect x="654" y="247" width="1" height="2" fill="#a0ffff"/><rect x="656" y="231" width="1" height="1" fill="#30c0ff"/><rect x="656" y="240" width="1" height="1" fill="#48d8ff"/><rect x="670" y="250" width="1" height="1" fill="#30c0ff"/><rect x="663" y="252" width="1" height="2" fill="#30c0ff"/><rect x="658" y="236" width="1" height="1" fill="#80ffff"/><rect x="652" y="233" width="1" height="1" fill="#30c0ff"/><rect x="655" y="248" width="1" height="1" fill="#48d8ff"/><rect x="664" y="247" width="1" height="1" fill="#30c0ff"/><rect x="658" y="245" width="1" height="1" fill="#80ffff"/><rect x="669" y="242" width="1" height="1" fill="#30c0ff"/><rect x="649" y="235" width="1" height="2" fill="#30c0ff"/><rect x="664" y="243" width="1" height="1" fill="#80ffff"/><rect x="669" y="248" width="1" height="2" fill="#60f0ff"/><rect x="668" y="240" width="1" height="1" fill="#48d8ff"/><rect x="667" y="253" width="1" height="2" fill="#80ffff"/><rect x="664" y="238" width="1" height="2" fill="#60f0ff"/><rect x="646" y="234" width="1" height="1" fill="#a0ffff"/><rect x="648" y="239" width="1" height="1" fill="#48d8ff"/><rect x="664" y="242" width="1" height="2" fill="#80ffff"/><rect x="665" y="248" width="1" height="1" fill="#60f0ff"/><rect x="669" y="244" width="1" height="1" fill="#a0ffff"/><rect x="671" y="249" width="1" height="1" fill="#a0ffff"/><rect x="663" y="252" width="1" height="2" fill="#60f0ff"/><rect x="664" y="236" width="1" height="2" fill="#30c0ff"/><rect x="666" y="250" width="1" height="1" fill="#80ffff"/><rect x="663" y="245" width="1" height="1" fill="#60f0ff"/><rect x="653" y="237" width="1" height="2" fill="#80ffff"/><rect x="668" y="252" width="1" height="1" fill="#48d8ff"/><rect x="670" y="238" width="1" height="2" fill="#a0ffff"/><rect x="666" y="236" width="1" height="2" fill="#a0ffff"/><rect x="654" y="243" width="1" height="1" fill="#60f0ff"/><rect x="655" y="242" width="1" height="1" fill="#48d8ff"/><rect x="657" y="238" width="1" height="1" fill="#60f0ff"/><rect x="651" y="238" width="1" height="1" fill="#60f0ff"/><rect x="662" y="244" width="1" height="1" fill="#a0ffff"/><rect x="656" y="244" width="1" height="2" fill="#60f0ff"/><rect x="661" y="245" width="1" height="1" fill="#30c0ff"/><rect x="669" y="250" width="1" height="1" fill="#80ffff"/><rect x="665" y="240" width="1" height="1" fill="#48d8ff"/><rect x="661" y="236" width="1" height="2" fill="#a0ffff"/><rect x="670" y="242" width="1" height="1" fill="#60f0ff"/><rect x="654" y="246" width="1" height="1" fill="#30c0ff"/><rect x="648" y="233" width="1" height="1" fill="#80ffff"/><rect x="661" y="228" width="1" height="1" fill="#60f0ff"/><rect x="661" y="255" width="1" height="1" fill="#48d8ff"/><rect x="660" y="251" width="1" height="1" fill="#48d8ff"/><rect x="660" y="245" width="1" height="2" fill="#48d8ff"/><rect x="669" y="252" width="1" height="2" fill="#a0ffff"/><rect x="661" y="251" width="1" height="1" fill="#60f0ff"/><rect x="671" y="247" width="1" height="1" fill="#48d8ff"/><rect x="658" y="247" width="1" height="1" fill="#48d8ff"/><rect x="661" y="253" width="1" height="1" fill="#30c0ff"/><rect x="685" y="276" width="1" height="1" fill="#ffc830"/><rect x="688" y="274" width="1" height="2" fill="#ffd840"/><rect x="675" y="276" width="1" height="1" fill="#ff8800"/><rect x="684" y="276" width="1" height="1" fill="#ffd840"/><rect x="675" y="278" width="1" height="2" fill="#ffa800"/><rect x="675" y="280" width="1" height="2" fill="#ffc830"/><rect x="682" y="278" width="1" height="1" fill="#ffc830"/><rect x="674" y="273" width="1" height="2" fill="#ffa800"/><rect x="672" y="267" width="1" height="1" fill="#ffa800"/><rect x="684" y="285" width="1" height="2" fill="#ffc830"/><rect x="674" y="273" width="1" height="2" fill="#ffc830"/><rect x="681" y="270" width="1" height="2" fill="#ffd840"/><rect x="684" y="279" width="1" height="2" fill="#ffff60"/><rect x="678" y="267" width="1" height="1" fill="#ff8800"/><rect x="677" y="273" width="1" height="1" fill="#ffff60"/><rect x="679" y="271" width="1" height="2" fill="#ffd840"/><rect x="673" y="270" width="1" height="2" fill="#ffd840"/><rect x="678" y="271" width="1" height="1" fill="#ffff60"/><rect x="678" y="267" width="1" height="1" fill="#ffa800"/><rect x="677" y="267" width="1" height="1" fill="#ffb820"/><rect x="674" y="275" width="1" height="1" fill="#ffc830"/><rect x="674" y="271" width="1" height="1" fill="#ffff60"/><rect x="673" y="266" width="1" height="1" fill="#ffc830"/><rect x="672" y="267" width="1" height="2" fill="#ffff60"/><rect x="680" y="272" width="1" height="1" fill="#ffa800"/><rect x="688" y="270" width="1" height="1" fill="#ffa800"/><rect x="671" y="268" width="1" height="1" fill="#ffd840"/><rect x="686" y="274" width="1" height="1" fill="#ffb820"/><rect x="678" y="275" width="1" height="2" fill="#ffc830"/><rect x="677" y="272" width="1" height="1" fill="#ffff60"/><rect x="677" y="268" width="1" height="1" fill="#ffa800"/><rect x="684" y="270" width="1" height="1" fill="#ffff60"/><rect x="676" y="270" width="1" height="1" fill="#ffff60"/><rect x="677" y="272" width="1" height="1" fill="#ffc830"/><rect x="679" y="267" width="1" height="1" fill="#ffd840"/><rect x="676" y="271" width="1" height="1" fill="#ffa800"/><rect x="673" y="271" width="1" height="2" fill="#ffff60"/><rect x="679" y="279" width="1" height="1" fill="#ffff60"/><rect x="675" y="270" width="1" height="1" fill="#ffff60"/><rect x="674" y="265" width="1" height="2" fill="#ffa800"/><rect x="687" y="283" width="1" height="1" fill="#ffc830"/><rect x="675" y="275" width="1" height="2" fill="#ffb820"/><rect x="678" y="274" width="1" height="2" fill="#ff8800"/><rect x="674" y="272" width="1" height="1" fill="#ffd840"/><rect x="679" y="283" width="1" height="2" fill="#ffb820"/><rect x="680" y="289" width="1" height="1" fill="#ffa800"/><rect x="673" y="279" width="1" height="1" fill="#ffff60"/><rect x="671" y="270" width="1" height="2" fill="#ff8800"/><rect x="678" y="270" width="1" height="2" fill="#ffd840"/><rect x="676" y="275" width="1" height="1" fill="#ffd840"/><rect x="676" y="271" width="1" height="2" fill="#ffff60"/><rect x="672" y="268" width="1" height="1" fill="#ffff60"/><rect x="670" y="265" width="1" height="1" fill="#ff8800"/><rect x="678" y="274" width="1" height="1" fill="#ffd840"/><rect x="671" y="266" width="1" height="1" fill="#ffff60"/><rect x="675" y="278" width="1" height="1" fill="#ff8800"/><rect x="678" y="277" width="1" height="2" fill="#ffa800"/><rect x="689" y="271" width="1" height="2" fill="#ffd840"/><rect x="687" y="272" width="1" height="1" fill="#ffc830"/><rect x="684" y="273" width="1" height="1" fill="#ff8800"/><rect x="677" y="277" width="1" height="1" fill="#ffd840"/><rect x="685" y="272" width="1" height="2" fill="#ffc830"/><rect x="680" y="277" width="1" height="1" fill="#ffc830"/><rect x="686" y="271" width="1" height="1" fill="#ffc830"/><rect x="683" y="271" width="1" height="2" fill="#ffb820"/><rect x="685" y="269" width="1" height="1" fill="#ffa800"/><rect x="674" y="279" width="1" height="1" fill="#ffa800"/><rect x="682" y="270" width="1" height="1" fill="#ffb820"/><rect x="682" y="274" width="1" height="1" fill="#ff8800"/><rect x="674" y="283" width="1" height="2" fill="#ffb820"/><rect x="676" y="266" width="1" height="1" fill="#ffc830"/><rect x="680" y="271" width="1" height="1" fill="#ffa800"/><rect x="678" y="280" width="1" height="2" fill="#ffd840"/><rect x="680" y="272" width="1" height="1" fill="#ff8800"/><rect x="681" y="276" width="1" height="2" fill="#ffa800"/><rect x="676" y="269" width="1" height="1" fill="#ffc830"/><rect x="678" y="277" width="1" height="1" fill="#ffb820"/><rect x="675" y="268" width="1" height="1" fill="#ff8800"/><rect x="687" y="283" width="1" height="2" fill="#ffa800"/><rect x="675" y="276" width="1" height="2" fill="#ffb820"/><rect x="676" y="275" width="1" height="2" fill="#ffa800"/><rect x="681" y="287" width="1" height="1" fill="#ff8800"/><rect x="672" y="269" width="1" height="1" fill="#ffc830"/><rect x="681" y="267" width="1" height="1" fill="#ffd840"/><rect x="675" y="269" width="1" height="1" fill="#ffc830"/><rect x="677" y="266" width="1" height="2" fill="#ffb820"/><rect x="673" y="270" width="1" height="1" fill="#ffff60"/><rect x="684" y="279" width="1" height="1" fill="#ff8800"/><rect x="679" y="286" width="1" height="1" fill="#ffb820"/><rect x="680" y="278" width="1" height="1" fill="#ff8800"/><rect x="673" y="270" width="1" height="1" fill="#ffff60"/><rect x="675" y="273" width="1" height="1" fill="#ff8800"/><rect x="678" y="267" width="1" height="2" fill="#ffa800"/><rect x="675" y="274" width="1" height="1" fill="#ff8800"/><rect x="684" y="268" width="1" height="1" fill="#ffff60"/><rect x="687" y="275" width="1" height="1" fill="#ffff60"/><rect x="674" y="280" width="1" height="1" fill="#ffb820"/><rect x="674" y="273" width="1" height="1" fill="#ffc830"/><rect x="674" y="274" width="1" height="1" fill="#ff8800"/><rect x="683" y="271" width="1" height="2" fill="#ffc830"/><rect x="672" y="270" width="1" height="1" fill="#ffb820"/><rect x="681" y="278" width="1" height="1" fill="#ffb820"/><rect x="685" y="281" width="1" height="1" fill="#ffc830"/><rect x="674" y="275" width="1" height="1" fill="#ffff60"/><rect x="678" y="279" width="1" height="1" fill="#ffb820"/><rect x="675" y="271" width="1" height="2" fill="#ff8800"/><rect x="675" y="268" width="1" height="1" fill="#ffb820"/><rect x="674" y="277" width="1" height="2" fill="#ff8800"/><rect x="680" y="284" width="1" height="1" fill="#ff8800"/><rect x="672" y="272" width="1" height="1" fill="#ffa800"/></g>
</g>
<rect x="59.30" y="74.65" width="374.30" height="374.30" fill="none" stroke="#000" stroke-width="2.0"/>
<path d="M59.30 74.65v-14.6M59.30 448.95v14.6M59.30 74.65h-14.6M433.60 74.65h14.6M152.88 74.65v-14.6M152.88 448.95v14.6M59.30 168.23h-14.6M433.60 168.23h14.6M246.45 74.65v-14.6M246.45 448.95v14.6M59.30 261.80h-14.6M433.60 261.80h14.6M340.03 74.65v-14.6M340.03 448.95v14.6M59.30 355.38h-14.6M433.60 355.38h14.6M433.60 74.65v-14.6M433.60 448.95v14.6M59.30 448.95h-14.6M433.60 448.95h14.6" stroke="#000" stroke-width="2.0" fill="none"/>
<path d="M74.90 74.65v-7.2M74.90 448.95v7.2M59.30 90.25h-7.2M433.60 90.25h7.2M90.49 74.65v-7.2M90.49 448.95v7.2M59.30 105.84h-7.2M433.60 105.84h7.2M106.09 74.65v-7.2M106.09 448.95v7.2M59.30 121.44h-7.2M433.60 121.44h7.2M121.68 74.65v-7.2M121.68 448.95v7.2M59.30 137.03h-7.2M433.60 137.03h7.2M137.28 74.65v-7.2M137.28 448.95v7.2M59.30 152.63h-7.2M433.60 152.63h7.2M168.47 74.65v-7.2M168.47 448.95v7.2M59.30 183.82h-7.2M433.60 183.82h7.2M184.07 74.65v-7.2M184.07 448.95v7.2M59.30 199.42h-7.2M433.60 199.42h7.2M199.66 74.65v-7.2M199.66 448.95v7.2M59.30 215.01h-7.2M433.60 215.01h7.2M215.26 74.65v-7.2M215.26 448.95v7.2M59.30 230.61h-7.2M433.60 230.61h7.2M230.85 74.65v-7.2M230.85 448.95v7.2M59.30 246.20h-7.2M433.60 246.20h7.2M262.05 74.65v-7.2M262.05 448.95v7.2M59.30 277.40h-7.2M433.60 277.40h7.2M277.64 74.65v-7.2M277.64 448.95v7.2M59.30 292.99h-7.2M433.60 292.99h7.2M293.24 74.65v-7.2M293.24 448.95v7.2M59.30 308.59h-7.2M433.60 308.59h7.2M308.83 74.65v-7.2M308.83 448.95v7.2M59.30 324.18h-7.2M433.60 324.18h7.2M324.43 74.65v-7.2M324.43 448.95v7.2M59.30 339.78h-7.2M433.60 339.78h7.2M355.62 74.65v-7.2M355.62 448.95v7.2M59.30 370.97h-7.2M433.60 370.97h7.2M371.22 74.65v-7.2M371.22 448.95v7.2M59.30 386.57h-7.2M433.60 386.57h7.2M386.81 74.65v-7.2M386.81 448.95v7.2M59.30 402.16h-7.2M433.60 402.16h7.2M402.41 74.65v-7.2M402.41 448.95v7.2M59.30 417.76h-7.2M433.60 417.76h7.2M418.00 74.65v-7.2M418.00 448.95v7.2M59.30 433.35h-7.2M433.60 433.35h7.2" stroke="#000" stroke-width="1.5" fill="none"/>
<rect x="480.40" y="74.65" width="374.30" height="374.30" fill="none" stroke="#000" stroke-width="2.0"/>
<path d="M480.40 74.65v-14.6M480.40 448.95v14.6M480.40 74.65h-14.6M854.70 74.65h14.6M573.98 74.65v-14.6M573.98 448.95v14.6M480.40 168.23h-14.6M854.70 168.23h14.6M667.55 74.65v-14.6M667.55 448.95v14.6M480.40 261.80h-14.6M854.70 261.80h14.6M761.12 74.65v-14.6M761.12 448.95v14.6M480.40 355.38h-14.6M854.70 355.38h14.6M854.70 74.65v-14.6M854.70 448.95v14.6M480.40 448.95h-14.6M854.70 448.95h14.6" stroke="#000" stroke-width="2.0" fill="none"/>
<path d="M496.00 74.65v-7.2M496.00 448.95v7.2M480.40 90.25h-7.2M854.70 90.25h7.2M511.59 74.65v-7.2M511.59 448.95v7.2M480.40 105.84h-7.2M854.70 105.84h7.2M527.19 74.65v-7.2M527.19 448.95v7.2M480.40 121.44h-7.2M854.70 121.44h7.2M542.78 74.65v-7.2M542.78 448.95v7.2M480.40 137.03h-7.2M854.70 137.03h7.2M558.38 74.65v-7.2M558.38 448.95v7.2M480.40 152.63h-7.2M854.70 152.63h7.2M589.57 74.65v-7.2M589.57 448.95v7.2M480.40 183.82h-7.2M854.70 183.82h7.2M605.17 74.65v-7.2M605.17 448.95v7.2M480.40 199.42h-7.2M854.70 199.42h7.2M620.76 74.65v-7.2M620.76 448.95v7.2M480.40 215.01h-7.2M854.70 215.01h7.2M636.36 74.65v-7.2M636.36 448.95v7.2M480.40 230.61h-7.2M854.70 230.61h7.2M651.95 74.65v-7.2M651.95 448.95v7.2M480.40 246.20h-7.2M854.70 246.20h7.2M683.15 74.65v-7.2M683.15 448.95v7.2M480.40 277.40h-7.2M854.70 277.40h7.2M698.74 74.65v-7.2M698.74 448.95v7.2M480.40 292.99h-7.2M854.70 292.99h7.2M714.34 74.65v-7.2M714.34 448.95v7.2M480.40 308.59h-7.2M854.70 308.59h7.2M729.93 74.65v-7.2M729.93 448.95v7.2M480.40 324.18h-7.2M854.70 324.18h7.2M745.53 74.65v-7.2M745.53 448.95v7.2M480.40 339.78h-7.2M854.70 339.78h7.2M776.72 74.65v-7.2M776.72 448.95v7.2M480.40 370.97h-7.2M854.70 370.97h7.2M792.32 74.65v-7.2M792.32 448.95v7.2M480.40 386.57h-7.2M854.70 386.57h7.2M807.91 74.65v-7.2M807.91 448.95v7.2M480.40 402.16h-7.2M854.70 402.16h7.2M823.51 74.65v-7.2M823.51 448.95v7.2M480.40 417.76h-7.2M854.70 417.76h7.2M839.10 74.65v-7.2M839.10 448.95v7.2M480.40 433.35h-7.2M854.70 433.35h7.2" stroke="#000" stroke-width="1.5" fill="none"/>
<g class="tk">
<text transform="translate(59.30 499.5) scale(0.93 1)" text-anchor="middle">−6</text>
<text transform="translate(152.88 499.5) scale(0.93 1)" text-anchor="middle">−3</text>
<text transform="translate(246.45 499.5) scale(0.93 1)" text-anchor="middle">0</text>
<text transform="translate(340.03 499.5) scale(0.93 1)" text-anchor="middle">3</text>
<text transform="translate(433.60 499.5) scale(0.93 1)" text-anchor="middle">6</text>
<text transform="translate(480.40 499.5) scale(0.93 1)" text-anchor="middle">−6</text>
<text transform="translate(573.98 499.5) scale(0.93 1)" text-anchor="middle">−3</text>
<text transform="translate(667.55 499.5) scale(0.93 1)" text-anchor="middle">0</text>
<text transform="translate(761.12 499.5) scale(0.93 1)" text-anchor="middle">3</text>
<text transform="translate(854.70 499.5) scale(0.93 1)" text-anchor="middle">6</text>
<text transform="translate(31.0 84.95) scale(0.93 1)" text-anchor="end">6</text>
<text transform="translate(31.0 178.53) scale(0.93 1)" text-anchor="end">3</text>
<text transform="translate(31.0 272.10) scale(0.93 1)" text-anchor="end">0</text>
<text transform="translate(31.0 365.68) scale(0.93 1)" text-anchor="end">−3</text>
<text transform="translate(31.0 459.25) scale(0.93 1)" text-anchor="end">−6</text>
<rect x="59.00" y="509.1" width="9.10" height="10.4" fill="rgb(0,0,0)"/>
<rect x="68.10" y="509.1" width="9.10" height="10.4" fill="rgb(0,0,0)"/>
<rect x="77.20" y="509.1" width="9.10" height="10.4" fill="rgb(0,0,0)"/>
<rect x="86.30" y="509.1" width="9.10" height="10.4" fill="rgb(0,0,0)"/>
<rect x="95.40" y="509.1" width="9.10" height="10.4" fill="rgb(0,0,0)"/>
<rect x="104.50" y="509.1" width="9.10" height="10.4" fill="rgb(0,0,0)"/>
<rect x="113.60" y="509.1" width="9.10" height="10.4" fill="rgb(0,0,0)"/>
<rect x="122.70" y="509.1" width="9.10" height="10.4" fill="rgb(0,0,0)"/>
<rect x="131.80" y="509.1" width="9.10" height="10.4" fill="rgb(0,0,0)"/>
<rect x="140.90" y="509.1" width="9.10" height="10.4" fill="rgb(0,0,0)"/>
<rect x="150.00" y="509.1" width="9.10" height="10.4" fill="rgb(9,9,9)"/>
<rect x="159.10" y="509.1" width="9.10" height="10.4" fill="rgb(19,19,19)"/>
<rect x="168.20" y="509.1" width="9.10" height="10.4" fill="rgb(28,28,28)"/>
<rect x="177.30" y="509.1" width="9.10" height="10.4" fill="rgb(38,38,38)"/>
<rect x="186.40" y="509.1" width="9.10" height="10.4" fill="rgb(47,47,47)"/>
<rect x="195.50" y="509.1" width="9.10" height="10.4" fill="rgb(57,57,57)"/>
<rect x="204.60" y="509.1" width="9.10" height="10.4" fill="rgb(66,66,66)"/>
<rect x="213.70" y="509.1" width="9.10" height="10.4" fill="rgb(76,76,76)"/>
<rect x="222.80" y="509.1" width="9.10" height="10.4" fill="rgb(85,85,85)"/>
<rect x="231.90" y="509.1" width="9.10" height="10.4" fill="rgb(94,94,94)"/>
<rect x="241.00" y="509.1" width="9.10" height="10.4" fill="rgb(104,104,104)"/>
<rect x="250.10" y="509.1" width="9.10" height="10.4" fill="rgb(113,113,113)"/>
<rect x="259.20" y="509.1" width="9.10" height="10.4" fill="rgb(123,123,123)"/>
<rect x="268.30" y="509.1" width="9.10" height="10.4" fill="rgb(132,132,132)"/>
<rect x="277.40" y="509.1" width="9.10" height="10.4" fill="rgb(142,142,142)"/>
<rect x="286.50" y="509.1" width="9.10" height="10.4" fill="rgb(151,151,151)"/>
<rect x="295.60" y="509.1" width="9.10" height="10.4" fill="rgb(161,161,161)"/>
<rect x="304.70" y="509.1" width="9.10" height="10.4" fill="rgb(170,170,170)"/>
<rect x="313.80" y="509.1" width="9.10" height="10.4" fill="rgb(179,179,179)"/>
<rect x="322.90" y="509.1" width="9.10" height="10.4" fill="rgb(189,189,189)"/>
<rect x="332.00" y="509.1" width="9.10" height="10.4" fill="rgb(198,198,198)"/>
<rect x="341.10" y="509.1" width="9.10" height="10.4" fill="rgb(208,208,208)"/>
<rect x="350.20" y="509.1" width="9.10" height="10.4" fill="rgb(217,217,217)"/>
<rect x="359.30" y="509.1" width="9.10" height="10.4" fill="rgb(227,227,227)"/>
<rect x="368.40" y="509.1" width="9.10" height="10.4" fill="rgb(236,236,236)"/>
<rect x="377.50" y="509.1" width="9.10" height="10.4" fill="rgb(246,246,246)"/>
<path d="M59.00 509.1v10.4M68.10 509.1v10.4M77.20 509.1v10.4M86.30 509.1v10.4M95.40 509.1v10.4M104.50 509.1v10.4M113.60 509.1v10.4M122.70 509.1v10.4M131.80 509.1v10.4M140.90 509.1v10.4M150.00 509.1v10.4M159.10 509.1v10.4M168.20 509.1v10.4M177.30 509.1v10.4M186.40 509.1v10.4M195.50 509.1v10.4M204.60 509.1v10.4M213.70 509.1v10.4M222.80 509.1v10.4M231.90 509.1v10.4M241.00 509.1v10.4M250.10 509.1v10.4M259.20 509.1v10.4M268.30 509.1v10.4M277.40 509.1v10.4M286.50 509.1v10.4M295.60 509.1v10.4M304.70 509.1v10.4M313.80 509.1v10.4M322.90 509.1v10.4M332.00 509.1v10.4M341.10 509.1v10.4M350.20 509.1v10.4M359.30 509.1v10.4M368.40 509.1v10.4M377.50 509.1v10.4M386.60 509.1v10.4" stroke="#000" stroke-width="1.6" fill="none"/>
<rect x="59.0" y="509.1" width="327.60" height="10.4" fill="none" stroke="#000" stroke-width="1.6"/>
<path d="M386.60 509.1L395.20 514.3000000000001L386.60 519.5Z" fill="#ffff00" stroke="#000" stroke-width="1.7" stroke-linejoin="miter"/>
<path d="M59.00 519.5v14.6M68.10 519.5v6.8M77.20 519.5v6.8M86.30 519.5v6.8M95.40 519.5v6.8M104.50 519.5v14.6M113.60 519.5v6.8M122.70 519.5v6.8M131.80 519.5v6.8M140.90 519.5v6.8M150.00 519.5v14.6M159.10 519.5v6.8M168.20 519.5v6.8M177.30 519.5v6.8M186.40 519.5v6.8M195.50 519.5v14.6M204.60 519.5v6.8M213.70 519.5v6.8M222.80 519.5v6.8M231.90 519.5v6.8M241.00 519.5v14.6M250.10 519.5v6.8M259.20 519.5v6.8M268.30 519.5v6.8M277.40 519.5v6.8M286.50 519.5v14.6M295.60 519.5v6.8M304.70 519.5v6.8M313.80 519.5v6.8M322.90 519.5v6.8M332.00 519.5v14.6M341.10 519.5v6.8M350.20 519.5v6.8M359.30 519.5v6.8M368.40 519.5v6.8M377.50 519.5v14.6M386.60 519.5v6.8" stroke="#000" stroke-width="1.8" fill="none"/>
<text transform="translate(59.00 570.3) scale(0.93 1)" text-anchor="middle">0</text>
<text transform="translate(104.50 570.3) scale(0.93 1)" text-anchor="middle">2.5</text>
<text transform="translate(150.00 570.3) scale(0.93 1)" text-anchor="middle">5</text>
<text transform="translate(195.50 570.3) scale(0.93 1)" text-anchor="middle">7.5</text>
<text transform="translate(241.00 570.3) scale(0.93 1)" text-anchor="middle">10</text>
<text transform="translate(286.50 570.3) scale(0.93 1)" text-anchor="middle">12.5</text>
<text transform="translate(332.00 570.3) scale(0.93 1)" text-anchor="middle">15</text>
<text transform="translate(377.50 570.3) scale(0.93 1)" text-anchor="middle">17.5</text>
<rect x="480.98" y="509.1" width="8.57" height="10.4" fill="#d0ffff"/>
<rect x="489.55" y="509.1" width="8.57" height="10.4" fill="#b8ffff"/>
<rect x="498.12" y="509.1" width="8.57" height="10.4" fill="#a0ffff"/>
<rect x="506.70" y="509.1" width="8.57" height="10.4" fill="#88ffff"/>
<rect x="515.27" y="509.1" width="8.57" height="10.4" fill="#70f4ff"/>
<rect x="523.85" y="509.1" width="8.57" height="10.4" fill="#54dcff"/>
<rect x="532.43" y="509.1" width="8.57" height="10.4" fill="#38c4ff"/>
<rect x="541.00" y="509.1" width="8.57" height="10.4" fill="#28acff"/>
<rect x="549.58" y="509.1" width="8.57" height="10.4" fill="#1890ff"/>
<rect x="558.15" y="509.1" width="8.57" height="10.4" fill="#0870ff"/>
<rect x="566.73" y="509.1" width="8.57" height="10.4" fill="#0058ff"/>
<rect x="575.30" y="509.1" width="8.57" height="10.4" fill="#0040ff"/>
<rect x="583.88" y="509.1" width="8.57" height="10.4" fill="#0024ff"/>
<rect x="592.45" y="509.1" width="8.57" height="10.4" fill="#000cff"/>
<rect x="601.02" y="509.1" width="8.57" height="10.4" fill="#0000e0"/>
<rect x="609.60" y="509.1" width="8.57" height="10.4" fill="#0000b8"/>
<rect x="618.17" y="509.1" width="8.57" height="10.4" fill="#000098"/>
<rect x="626.75" y="509.1" width="8.57" height="10.4" fill="#000080"/>
<rect x="635.33" y="509.1" width="8.57" height="10.4" fill="#000058"/>
<rect x="643.90" y="509.1" width="8.57" height="10.4" fill="#f40000"/>
<rect x="652.48" y="509.1" width="8.57" height="10.4" fill="#ff1400"/>
<rect x="661.05" y="509.1" width="8.57" height="10.4" fill="#ff3000"/>
<rect x="669.62" y="509.1" width="8.57" height="10.4" fill="#ff4800"/>
<rect x="678.20" y="509.1" width="8.57" height="10.4" fill="#ff6000"/>
<rect x="686.77" y="509.1" width="8.57" height="10.4" fill="#ff7800"/>
<rect x="695.35" y="509.1" width="8.57" height="10.4" fill="#ff9000"/>
<rect x="703.92" y="509.1" width="8.57" height="10.4" fill="#ffa408"/>
<rect x="712.50" y="509.1" width="8.57" height="10.4" fill="#ffb818"/>
<rect x="721.08" y="509.1" width="8.57" height="10.4" fill="#ffc828"/>
<rect x="729.65" y="509.1" width="8.57" height="10.4" fill="#ffd838"/>
<rect x="738.23" y="509.1" width="8.57" height="10.4" fill="#fff048"/>
<rect x="746.80" y="509.1" width="8.57" height="10.4" fill="#ffff58"/>
<rect x="755.38" y="509.1" width="8.57" height="10.4" fill="#ffff68"/>
<rect x="763.95" y="509.1" width="8.57" height="10.4" fill="#ffff80"/>
<rect x="772.52" y="509.1" width="8.57" height="10.4" fill="#ffff98"/>
<rect x="781.10" y="509.1" width="8.57" height="10.4" fill="#ffffb0"/>
<rect x="789.67" y="509.1" width="8.57" height="10.4" fill="#ffffc0"/>
<rect x="798.25" y="509.1" width="8.57" height="10.4" fill="#ffffd0"/>
<path d="M480.98 509.1v10.4M489.55 509.1v10.4M498.12 509.1v10.4M506.70 509.1v10.4M515.27 509.1v10.4M523.85 509.1v10.4M532.43 509.1v10.4M541.00 509.1v10.4M549.58 509.1v10.4M558.15 509.1v10.4M566.73 509.1v10.4M575.30 509.1v10.4M583.88 509.1v10.4M592.45 509.1v10.4M601.02 509.1v10.4M609.60 509.1v10.4M618.17 509.1v10.4M626.75 509.1v10.4M635.33 509.1v10.4M643.90 509.1v10.4M652.48 509.1v10.4M661.05 509.1v10.4M669.62 509.1v10.4M678.20 509.1v10.4M686.77 509.1v10.4M695.35 509.1v10.4M703.92 509.1v10.4M712.50 509.1v10.4M721.08 509.1v10.4M729.65 509.1v10.4M738.23 509.1v10.4M746.80 509.1v10.4M755.38 509.1v10.4M763.95 509.1v10.4M772.52 509.1v10.4M781.10 509.1v10.4M789.67 509.1v10.4M798.25 509.1v10.4M806.83 509.1v10.4" stroke="#000" stroke-width="1.6" fill="none"/>
<rect x="480.98" y="509.1" width="325.85" height="10.4" fill="none" stroke="#000" stroke-width="1.6"/>
<path d="M806.83 509.1L815.43 514.3000000000001L806.83 519.5Z" fill="#ffffe0" stroke="#000" stroke-width="1.7"/>
<path d="M480.98 509.1L472.38 514.3000000000001L480.98 519.5Z" fill="#e0ffff" stroke="#000" stroke-width="1.7"/>
<path d="M480.98 519.5v6.8M489.55 519.5v6.8M498.12 519.5v6.8M506.70 519.5v14.6M515.27 519.5v6.8M523.85 519.5v6.8M532.43 519.5v6.8M541.00 519.5v6.8M549.58 519.5v6.8M558.15 519.5v6.8M566.73 519.5v6.8M575.30 519.5v14.6M583.88 519.5v6.8M592.45 519.5v6.8M601.02 519.5v6.8M609.60 519.5v6.8M618.17 519.5v6.8M626.75 519.5v6.8M635.33 519.5v6.8M643.90 519.5v14.6M652.48 519.5v6.8M661.05 519.5v6.8M669.62 519.5v6.8M678.20 519.5v6.8M686.77 519.5v6.8M695.35 519.5v6.8M703.92 519.5v6.8M712.50 519.5v14.6M721.08 519.5v6.8M729.65 519.5v6.8M738.23 519.5v6.8M746.80 519.5v6.8M755.38 519.5v6.8M763.95 519.5v6.8M772.52 519.5v6.8M781.10 519.5v14.6M789.67 519.5v6.8M798.25 519.5v6.8M806.83 519.5v6.8" stroke="#000" stroke-width="1.8" fill="none"/>
<text transform="translate(506.70 570.3) scale(0.93 1)" text-anchor="middle">−8</text>
<text transform="translate(575.30 570.3) scale(0.93 1)" text-anchor="middle">−4</text>
<text transform="translate(643.90 570.3) scale(0.93 1)" text-anchor="middle">0</text>
<text transform="translate(712.50 570.3) scale(0.93 1)" text-anchor="middle">4</text>
<text transform="translate(781.10 570.3) scale(0.93 1)" text-anchor="middle">8</text>
</g>
</svg></body></html>
